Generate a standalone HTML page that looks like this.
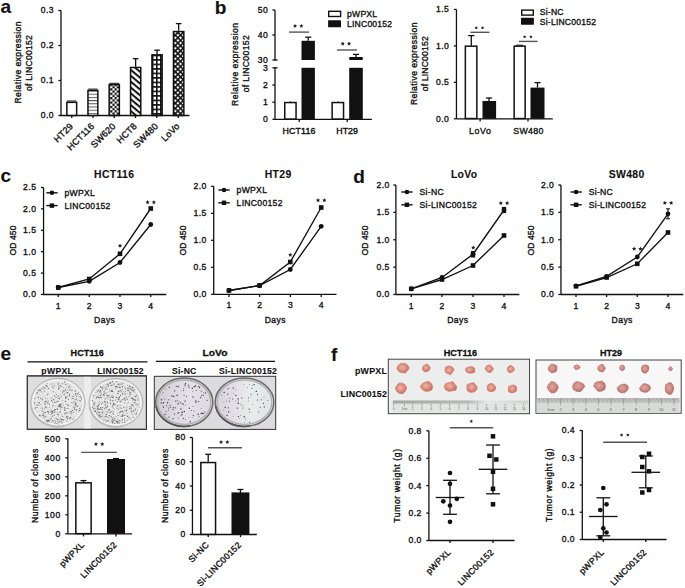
<!DOCTYPE html>
<html><head><meta charset="utf-8"><style>html,body{margin:0;padding:0;background:#fff;width:685px;height:588px;overflow:hidden}svg{display:block;font-family:"Liberation Sans",sans-serif}</style></head>
<body><svg width="685" height="588" viewBox="0 0 685 588" font-family="Liberation Sans, sans-serif"><defs>
<pattern id="ph" width="6" height="3.2" patternUnits="userSpaceOnUse" y="0.9"><rect width="6" height="3.2" fill="#fff"/><rect y="0" width="6" height="1.0" fill="#555"/></pattern>
<pattern id="pc" width="4.4" height="4.4" patternUnits="userSpaceOnUse" x="0.2" y="0.3"><rect width="4.4" height="4.4" fill="#fff"/><rect width="2.2" height="2.2" fill="#111"/><rect x="2.2" y="2.2" width="2.2" height="2.2" fill="#111"/></pattern>
<pattern id="pd" width="6.6" height="4.5" patternUnits="userSpaceOnUse" patternTransform="rotate(40)"><rect width="6.6" height="4.5" fill="#fff"/><rect y="0" width="6.6" height="2.0" fill="#111"/></pattern>
<pattern id="pg" width="4.1" height="4.5" patternUnits="userSpaceOnUse" x="151.9" y="54.6"><rect width="4.1" height="4.5" fill="#111"/><rect x="1.55" y="1.6" width="2.55" height="2.9" fill="#fff"/></pattern>
<pattern id="px" width="3.7" height="3.7" patternUnits="userSpaceOnUse" patternTransform="rotate(45)"><rect width="3.7" height="3.7" fill="#fff"/><rect width="3.7" height="1.6" fill="#111"/><rect width="1.6" height="3.7" fill="#111"/></pattern>
<radialGradient id="tg1" cx="0.45" cy="0.45" r="0.6"><stop offset="0" stop-color="#eeb6a6"/><stop offset="0.55" stop-color="#dc8c7c"/><stop offset="1" stop-color="#c86a5e"/></radialGradient><linearGradient id="rg1" x1="0" x2="1"><stop offset="0" stop-color="#a8a8a8"/><stop offset="0.55" stop-color="#b8b8b8"/><stop offset="0.7" stop-color="#e8e8e8"/><stop offset="1" stop-color="#d0d0d0"/></linearGradient>
<radialGradient id="tg2" cx="0.45" cy="0.45" r="0.6"><stop offset="0" stop-color="#dfa89e"/><stop offset="0.6" stop-color="#cc8680"/><stop offset="1" stop-color="#b4625e"/></radialGradient>
</defs><rect width="685" height="588" fill="#fff"/><text x="0.50" y="13.2" font-size="19" font-weight="bold" text-anchor="start" letter-spacing="0.35" fill="#111" stroke="#111" stroke-width="0.12" >a</text>
<line x1="61.0" y1="10.5" x2="61.0" y2="116.1" stroke="#111" stroke-width="1.3" />
<line x1="58.4" y1="10.5" x2="61.0" y2="10.5" stroke="#111" stroke-width="1.3" />
<text x="54.10" y="13.4" font-size="8.6" text-anchor="end" letter-spacing="0.5" fill="#111" stroke="#111" stroke-width="0.34" >0.3</text>
<line x1="58.4" y1="45.5" x2="61.0" y2="45.5" stroke="#111" stroke-width="1.3" />
<text x="54.10" y="48.4" font-size="8.6" text-anchor="end" letter-spacing="0.5" fill="#111" stroke="#111" stroke-width="0.34" >0.2</text>
<line x1="58.4" y1="80.5" x2="61.0" y2="80.5" stroke="#111" stroke-width="1.3" />
<text x="54.10" y="83.4" font-size="8.6" text-anchor="end" letter-spacing="0.5" fill="#111" stroke="#111" stroke-width="0.34" >0.1</text>
<line x1="58.4" y1="115.5" x2="61.0" y2="115.5" stroke="#111" stroke-width="1.3" />
<text x="54.10" y="118.4" font-size="8.6" text-anchor="end" letter-spacing="0.5" fill="#111" stroke="#111" stroke-width="0.34" >0.0</text>
<line x1="60.4" y1="115.5" x2="189.5" y2="115.5" stroke="#111" stroke-width="1.3" />
<line x1="71.75" y1="115.5" x2="71.75" y2="118.1" stroke="#111" stroke-width="1.3" />
<line x1="93.0" y1="115.5" x2="93.0" y2="118.1" stroke="#111" stroke-width="1.3" />
<line x1="114.25" y1="115.5" x2="114.25" y2="118.1" stroke="#111" stroke-width="1.3" />
<line x1="135.5" y1="115.5" x2="135.5" y2="118.1" stroke="#111" stroke-width="1.3" />
<line x1="156.75" y1="115.5" x2="156.75" y2="118.1" stroke="#111" stroke-width="1.3" />
<line x1="178.25" y1="115.5" x2="178.25" y2="118.1" stroke="#111" stroke-width="1.3" />
<text x="21.20" y="62.5" font-size="8.6" text-anchor="middle" textLength="82" lengthAdjust="spacing" transform="rotate(-90 21.2 62.5)" fill="#111" stroke="#111" stroke-width="0.34" >Relative expression</text>
<text x="32.20" y="63.1" font-size="8.6" text-anchor="middle" textLength="56" lengthAdjust="spacing" transform="rotate(-90 32.2 63.1)" fill="#111" stroke="#111" stroke-width="0.34" >of LINC00152</text>
<line x1="67.1" y1="101.0" x2="76.4" y2="101.0" stroke="#111" stroke-width="1.0" />
<rect x="66.85" y="102.35" width="9.80" height="13.10" fill="#fff" stroke="#111" stroke-width="1.5"/>
<line x1="88.2" y1="89.10000000000001" x2="97.6" y2="89.10000000000001" stroke="#111" stroke-width="1.0" />
<rect x="87.95" y="90.45" width="9.90" height="25.00" fill="url(#ph)" stroke="#111" stroke-width="1.5"/>
<line x1="109.4" y1="83.30000000000001" x2="119.1" y2="83.30000000000001" stroke="#111" stroke-width="1.0" />
<rect x="109.15" y="84.65" width="10.20" height="30.80" fill="url(#pc)" stroke="#111" stroke-width="1.5"/>
<line x1="135.65" y1="66.7" x2="135.65" y2="58.7" stroke="#111" stroke-width="1.3" />
<line x1="132.85" y1="58.7" x2="138.45000000000002" y2="58.7" stroke="#111" stroke-width="1.3" />
<rect x="130.55" y="67.45" width="10.20" height="48.00" fill="url(#pd)" stroke="#111" stroke-width="1.5"/>
<line x1="157.05" y1="54.1" x2="157.05" y2="50.2" stroke="#111" stroke-width="1.3" />
<line x1="154.25" y1="50.2" x2="159.85000000000002" y2="50.2" stroke="#111" stroke-width="1.3" />
<rect x="151.95" y="54.85" width="10.20" height="60.60" fill="url(#pg)" stroke="#111" stroke-width="1.5"/>
<line x1="178.64999999999998" y1="30.8" x2="178.64999999999998" y2="23.6" stroke="#111" stroke-width="1.3" />
<line x1="175.84999999999997" y1="23.6" x2="181.45" y2="23.6" stroke="#111" stroke-width="1.3" />
<rect x="173.45" y="31.55" width="10.40" height="83.90" fill="url(#px)" stroke="#111" stroke-width="1.5"/>
<text x="73.70" y="126.9" font-size="9.1" text-anchor="end" letter-spacing="0.15" transform="rotate(-45 73.55 126.9)" fill="#111" stroke="#111" stroke-width="0.35" >HT29</text>
<text x="94.95" y="126.9" font-size="9.1" text-anchor="end" letter-spacing="0.15" transform="rotate(-45 94.8 126.9)" fill="#111" stroke="#111" stroke-width="0.35" >HCT116</text>
<text x="116.20" y="126.9" font-size="9.1" text-anchor="end" letter-spacing="0.15" transform="rotate(-45 116.05 126.9)" fill="#111" stroke="#111" stroke-width="0.35" >SW620</text>
<text x="137.45" y="126.9" font-size="9.1" text-anchor="end" letter-spacing="0.15" transform="rotate(-45 137.3 126.9)" fill="#111" stroke="#111" stroke-width="0.35" >HCT8</text>
<text x="158.70" y="126.9" font-size="9.1" text-anchor="end" letter-spacing="0.15" transform="rotate(-45 158.55 126.9)" fill="#111" stroke="#111" stroke-width="0.35" >SW480</text>
<text x="180.20" y="126.9" font-size="9.1" text-anchor="end" letter-spacing="0.15" transform="rotate(-45 180.05 126.9)" fill="#111" stroke="#111" stroke-width="0.35" >LoVo</text>
<text x="214.80" y="14.2" font-size="19" font-weight="bold" text-anchor="start" letter-spacing="0.35" fill="#111" stroke="#111" stroke-width="0.12" >b</text>
<line x1="275.0" y1="10" x2="275.0" y2="60.6" stroke="#111" stroke-width="1.3" />
<line x1="275.0" y1="67.4" x2="275.0" y2="119.3" stroke="#111" stroke-width="1.3" />
<line x1="272.4" y1="10" x2="275.0" y2="10" stroke="#111" stroke-width="1.3" />
<text x="268.30" y="12.9" font-size="8.6" text-anchor="end" letter-spacing="0.5" fill="#111" stroke="#111" stroke-width="0.34" >50</text>
<line x1="272.4" y1="35" x2="275.0" y2="35" stroke="#111" stroke-width="1.3" />
<text x="268.30" y="37.9" font-size="8.6" text-anchor="end" letter-spacing="0.5" fill="#111" stroke="#111" stroke-width="0.34" >40</text>
<line x1="272.4" y1="60" x2="275.0" y2="60" stroke="#111" stroke-width="1.3" />
<text x="268.30" y="62.9" font-size="8.6" text-anchor="end" letter-spacing="0.5" fill="#111" stroke="#111" stroke-width="0.34" >30</text>
<line x1="272.4" y1="67.8" x2="275.0" y2="67.8" stroke="#111" stroke-width="1.3" />
<text x="268.30" y="70.7" font-size="8.6" text-anchor="end" letter-spacing="0.5" fill="#111" stroke="#111" stroke-width="0.34" >3</text>
<line x1="272.4" y1="85" x2="275.0" y2="85" stroke="#111" stroke-width="1.3" />
<text x="268.30" y="87.9" font-size="8.6" text-anchor="end" letter-spacing="0.5" fill="#111" stroke="#111" stroke-width="0.34" >2</text>
<line x1="272.4" y1="102.2" x2="275.0" y2="102.2" stroke="#111" stroke-width="1.3" />
<text x="268.30" y="105.10000000000001" font-size="8.6" text-anchor="end" letter-spacing="0.5" fill="#111" stroke="#111" stroke-width="0.34" >1</text>
<line x1="272.4" y1="119.3" x2="275.0" y2="119.3" stroke="#111" stroke-width="1.3" />
<text x="268.30" y="122.2" font-size="8.6" text-anchor="end" letter-spacing="0.5" fill="#111" stroke="#111" stroke-width="0.34" >0</text>
<line x1="275.0" y1="60" x2="277.6" y2="60" stroke="#111" stroke-width="1.3" />
<line x1="275.0" y1="67.8" x2="277.6" y2="67.8" stroke="#111" stroke-width="1.3" />
<line x1="275.0" y1="119.3" x2="371.9" y2="119.3" stroke="#111" stroke-width="1.3" />
<line x1="299.2" y1="119.3" x2="299.2" y2="121.89999999999999" stroke="#111" stroke-width="1.3" />
<line x1="347.2" y1="119.3" x2="347.2" y2="121.89999999999999" stroke="#111" stroke-width="1.3" />
<rect x="284.75" y="102.55" width="11.30" height="16.50" fill="#fff" stroke="#111" stroke-width="1.5"/>
<rect x="332.15" y="102.55" width="11.40" height="16.50" fill="#fff" stroke="#111" stroke-width="1.5"/>
<line x1="290.4" y1="102.2" x2="290.4" y2="101.4" stroke="#111" stroke-width="1.3" />
<line x1="337.9" y1="101.6" x2="337.9" y2="101.0" stroke="#111" stroke-width="1.3" />
<rect x="301.5" y="67.8" width="13.4" height="51.5" fill="#111"/>
<rect x="301.5" y="40.8" width="13.4" height="19.2" fill="#111"/>
<line x1="308.2" y1="40.8" x2="308.2" y2="37.2" stroke="#111" stroke-width="1.3" />
<line x1="305.1" y1="37.2" x2="311.3" y2="37.2" stroke="#111" stroke-width="1.3" />
<rect x="349.2" y="67.8" width="13.6" height="51.5" fill="#111"/>
<rect x="349.2" y="56.9" width="13.6" height="3.1" rx="0.8" fill="#111"/>
<line x1="356" y1="58" x2="356" y2="54.4" stroke="#111" stroke-width="1.3" />
<line x1="352.9" y1="54.4" x2="359.1" y2="54.4" stroke="#111" stroke-width="1.3" />
<line x1="289" y1="32.1" x2="308.9" y2="32.1" stroke="#555" stroke-width="1.4" />
<polygon points="295.05,23.85 295.68,25.13 297.09,25.34 296.07,26.33 296.31,27.74 295.05,27.07 293.79,27.74 294.03,26.33 293.01,25.34 294.42,25.13" fill="#222"/>
<polygon points="301.35,23.85 301.98,25.13 303.39,25.34 302.37,26.33 302.61,27.74 301.35,27.07 300.09,27.74 300.33,26.33 299.31,25.34 300.72,25.13" fill="#222"/>
<line x1="337" y1="50.0" x2="357" y2="50.0" stroke="#555" stroke-width="1.4" />
<polygon points="342.75,41.55 343.38,42.83 344.79,43.04 343.77,44.03 344.01,45.44 342.75,44.78 341.49,45.44 341.73,44.03 340.71,43.04 342.12,42.83" fill="#222"/>
<polygon points="349.05,41.55 349.68,42.83 351.09,43.04 350.07,44.03 350.31,45.44 349.05,44.78 347.79,45.44 348.03,44.03 347.01,43.04 348.42,42.83" fill="#222"/>
<rect x="328.70" y="11.30" width="11.90" height="5.20" fill="#fff" stroke="#111" stroke-width="1.4"/>
<rect x="328.1" y="20.3" width="12.9" height="7.0" rx="0.6" fill="#111"/>
<text x="347.00" y="16.9" font-size="8.6" text-anchor="start" letter-spacing="0.25" fill="#111" stroke="#111" stroke-width="0.34" >pWPXL</text>
<text x="347.00" y="26.8" font-size="8.6" text-anchor="start" letter-spacing="0.2" fill="#111" stroke="#111" stroke-width="0.34" >LINC00152</text>
<text x="299.00" y="134" font-size="8.8" text-anchor="middle" textLength="33" lengthAdjust="spacing" fill="#111" stroke="#111" stroke-width="0.4" >HCT116</text>
<text x="347.10" y="134" font-size="8.8" text-anchor="middle" textLength="21.5" lengthAdjust="spacing" fill="#111" stroke="#111" stroke-width="0.4" >HT29</text>
<text x="238.50" y="64.4" font-size="8.6" text-anchor="middle" textLength="83" lengthAdjust="spacing" transform="rotate(-90 238.5 64.4)" fill="#111" stroke="#111" stroke-width="0.34" >Relative expression</text>
<text x="249.50" y="63.8" font-size="8.6" text-anchor="middle" textLength="57" lengthAdjust="spacing" transform="rotate(-90 249.5 63.8)" fill="#111" stroke="#111" stroke-width="0.34" >of LINC00152</text>
<line x1="456.45" y1="9.5" x2="456.45" y2="118.8" stroke="#111" stroke-width="1.3" />
<line x1="453.84999999999997" y1="9.449999999999989" x2="456.45" y2="9.449999999999989" stroke="#111" stroke-width="1.3" />
<text x="449.40" y="12.349999999999989" font-size="8.6" text-anchor="end" letter-spacing="0.5" fill="#111" stroke="#111" stroke-width="0.34" >1.5</text>
<line x1="453.84999999999997" y1="45.89999999999999" x2="456.45" y2="45.89999999999999" stroke="#111" stroke-width="1.3" />
<text x="449.40" y="48.79999999999999" font-size="8.6" text-anchor="end" letter-spacing="0.5" fill="#111" stroke="#111" stroke-width="0.34" >1.0</text>
<line x1="453.84999999999997" y1="82.35" x2="456.45" y2="82.35" stroke="#111" stroke-width="1.3" />
<text x="449.40" y="85.25" font-size="8.6" text-anchor="end" letter-spacing="0.5" fill="#111" stroke="#111" stroke-width="0.34" >0.5</text>
<line x1="453.84999999999997" y1="118.8" x2="456.45" y2="118.8" stroke="#111" stroke-width="1.3" />
<text x="449.40" y="121.7" font-size="8.6" text-anchor="end" letter-spacing="0.5" fill="#111" stroke="#111" stroke-width="0.34" >0.0</text>
<line x1="456.45" y1="118.8" x2="552.8" y2="118.8" stroke="#111" stroke-width="1.3" />
<line x1="480.1" y1="118.8" x2="480.1" y2="121.39999999999999" stroke="#111" stroke-width="1.3" />
<line x1="528.0" y1="118.8" x2="528.0" y2="121.39999999999999" stroke="#111" stroke-width="1.3" />
<rect x="465.35" y="46.15" width="11.50" height="72.40" fill="#fff" stroke="#111" stroke-width="1.5"/>
<line x1="471.3" y1="45.9" x2="471.3" y2="35.6" stroke="#111" stroke-width="1.3" />
<line x1="468.2" y1="35.6" x2="474.4" y2="35.6" stroke="#111" stroke-width="1.3" />
<rect x="482.5" y="101" width="13.6" height="17.8" fill="#111"/>
<line x1="489" y1="101" x2="489" y2="98" stroke="#111" stroke-width="1.3" />
<line x1="485.9" y1="98" x2="492.1" y2="98" stroke="#111" stroke-width="1.3" />
<rect x="514.15" y="46.15" width="11.00" height="72.40" fill="#fff" stroke="#111" stroke-width="1.5"/>
<line x1="516" y1="45.2" x2="523" y2="45.2" stroke="#111" stroke-width="1.0" />
<rect x="530.5" y="87.6" width="14" height="31.2" fill="#111"/>
<line x1="537.5" y1="87.6" x2="537.5" y2="82.6" stroke="#111" stroke-width="1.3" />
<line x1="534.4" y1="82.6" x2="540.6" y2="82.6" stroke="#111" stroke-width="1.3" />
<line x1="470.4" y1="32.3" x2="489.5" y2="32.3" stroke="#555" stroke-width="1.4" />
<polygon points="476.25,26.10 476.78,27.17 477.96,27.34 477.11,28.18 477.31,29.36 476.25,28.80 475.19,29.36 475.39,28.18 474.54,27.34 475.72,27.17" fill="#222"/>
<polygon points="482.55,26.10 483.08,27.17 484.26,27.34 483.41,28.18 483.61,29.36 482.55,28.80 481.49,29.36 481.69,28.18 480.84,27.34 482.02,27.17" fill="#222"/>
<line x1="519" y1="41.4" x2="537.6" y2="41.4" stroke="#555" stroke-width="1.4" />
<polygon points="524.65,35.10 525.18,36.17 526.36,36.34 525.51,37.18 525.71,38.36 524.65,37.80 523.59,38.36 523.79,37.18 522.94,36.34 524.12,36.17" fill="#222"/>
<polygon points="530.95,35.10 531.48,36.17 532.66,36.34 531.81,37.18 532.01,38.36 530.95,37.80 529.89,38.36 530.09,37.18 529.24,36.34 530.42,36.17" fill="#222"/>
<rect x="521.70" y="10.10" width="11.60" height="5.00" fill="#fff" stroke="#111" stroke-width="1.4"/>
<rect x="521.0" y="17.8" width="12.9" height="6.9" rx="0.6" fill="#111"/>
<text x="539.80" y="15.0" font-size="8.6" text-anchor="start" letter-spacing="0.2" fill="#111" stroke="#111" stroke-width="0.34" >Si-NC</text>
<text x="539.80" y="24.8" font-size="8.6" text-anchor="start" letter-spacing="0.2" fill="#111" stroke="#111" stroke-width="0.34" >Si-LINC00152</text>
<text x="479.90" y="133.8" font-size="8.8" text-anchor="middle" textLength="22" lengthAdjust="spacing" fill="#111" stroke="#111" stroke-width="0.34" >LoVo</text>
<text x="528.30" y="133.8" font-size="8.8" text-anchor="middle" textLength="30" lengthAdjust="spacing" fill="#111" stroke="#111" stroke-width="0.34" >SW480</text>
<text x="416.70" y="63.8" font-size="8.6" text-anchor="middle" textLength="82.5" lengthAdjust="spacing" transform="rotate(-90 416.7 63.8)" fill="#111" stroke="#111" stroke-width="0.34" >Relative expression</text>
<text x="428.00" y="63.8" font-size="8.6" text-anchor="middle" textLength="55" lengthAdjust="spacing" transform="rotate(-90 428.0 63.8)" fill="#111" stroke="#111" stroke-width="0.34" >of LINC00152</text>
<text x="0.60" y="181.7" font-size="19" font-weight="bold" text-anchor="start" letter-spacing="0.35" fill="#111" stroke="#111" stroke-width="0.12" >c</text>
<line x1="43.55" y1="187.5" x2="43.55" y2="294.5" stroke="#111" stroke-width="1.3" />
<line x1="40.949999999999996" y1="294.5" x2="43.55" y2="294.5" stroke="#111" stroke-width="1.3" />
<text x="36.50" y="297.4" font-size="8.6" text-anchor="end" letter-spacing="0.5" fill="#111" stroke="#111" stroke-width="0.34" >0.0</text>
<line x1="40.949999999999996" y1="273.1" x2="43.55" y2="273.1" stroke="#111" stroke-width="1.3" />
<text x="36.50" y="276.0" font-size="8.6" text-anchor="end" letter-spacing="0.5" fill="#111" stroke="#111" stroke-width="0.34" >0.5</text>
<line x1="40.949999999999996" y1="251.7" x2="43.55" y2="251.7" stroke="#111" stroke-width="1.3" />
<text x="36.50" y="254.6" font-size="8.6" text-anchor="end" letter-spacing="0.5" fill="#111" stroke="#111" stroke-width="0.34" >1.0</text>
<line x1="40.949999999999996" y1="230.3" x2="43.55" y2="230.3" stroke="#111" stroke-width="1.3" />
<text x="36.50" y="233.20000000000002" font-size="8.6" text-anchor="end" letter-spacing="0.5" fill="#111" stroke="#111" stroke-width="0.34" >1.5</text>
<line x1="40.949999999999996" y1="208.9" x2="43.55" y2="208.9" stroke="#111" stroke-width="1.3" />
<text x="36.50" y="211.8" font-size="8.6" text-anchor="end" letter-spacing="0.5" fill="#111" stroke="#111" stroke-width="0.34" >2.0</text>
<line x1="40.949999999999996" y1="187.5" x2="43.55" y2="187.5" stroke="#111" stroke-width="1.3" />
<text x="36.50" y="190.4" font-size="8.6" text-anchor="end" letter-spacing="0.5" fill="#111" stroke="#111" stroke-width="0.34" >2.5</text>
<line x1="43.55" y1="294.5" x2="166.25" y2="294.5" stroke="#111" stroke-width="1.3" />
<line x1="58.25" y1="294.5" x2="58.25" y2="297.1" stroke="#111" stroke-width="1.3" />
<line x1="89.25" y1="294.5" x2="89.25" y2="297.1" stroke="#111" stroke-width="1.3" />
<line x1="120.0" y1="294.5" x2="120.0" y2="297.1" stroke="#111" stroke-width="1.3" />
<line x1="150.75" y1="294.5" x2="150.75" y2="297.1" stroke="#111" stroke-width="1.3" />
<text x="58.50" y="308.5" font-size="8.6" text-anchor="middle" letter-spacing="0.5" fill="#111" stroke="#111" stroke-width="0.34" >1</text>
<text x="89.50" y="308.5" font-size="8.6" text-anchor="middle" letter-spacing="0.5" fill="#111" stroke="#111" stroke-width="0.34" >2</text>
<text x="120.25" y="308.5" font-size="8.6" text-anchor="middle" letter-spacing="0.5" fill="#111" stroke="#111" stroke-width="0.34" >3</text>
<text x="151.00" y="308.5" font-size="8.6" text-anchor="middle" letter-spacing="0.5" fill="#111" stroke="#111" stroke-width="0.34" >4</text>
<text x="104.50" y="322.9" font-size="8.6" text-anchor="middle" textLength="20.8" lengthAdjust="spacing" fill="#111" stroke="#111" stroke-width="0.34" >Days</text>
<text x="114.17" y="178.3" font-size="10.4" font-weight="bold" text-anchor="middle" letter-spacing="0.35" fill="#111" stroke="#111" stroke-width="0.12" >HCT116</text>
<text x="15.60" y="240.5" font-size="8.6" text-anchor="middle" textLength="30" lengthAdjust="spacing" transform="rotate(-90 15.6 240.5)" fill="#111" stroke="#111" stroke-width="0.34" >OD 450</text>
<line x1="46.3" y1="192.8" x2="57.599999999999994" y2="192.8" stroke="#111" stroke-width="1.4" />
<circle cx="51.9" cy="192.8" r="2.3100000000000005" fill="#111"/>
<text x="64.50" y="195.8" font-size="8.6" text-anchor="start" letter-spacing="0.3" fill="#111" stroke="#111" stroke-width="0.34" >pWPXL</text>
<line x1="46.3" y1="205.60000000000002" x2="57.599999999999994" y2="205.60000000000002" stroke="#111" stroke-width="1.4" />
<rect x="49.699999999999996" y="203.40000000000003" width="4.4" height="4.4" fill="#111"/>
<text x="64.50" y="208.60000000000002" font-size="8.6" text-anchor="start" letter-spacing="0.3" fill="#111" stroke="#111" stroke-width="0.34" >LINC00152</text>
<polyline points="58.25,287.5 89.25,281.3 120.0,262.5 150.75,224.5" fill="none" stroke="#111" stroke-width="1.35"/>
<circle cx="58.25" cy="287.5" r="2.415" fill="#111"/>
<circle cx="89.25" cy="281.3" r="2.415" fill="#111"/>
<circle cx="120.0" cy="262.5" r="2.415" fill="#111"/>
<circle cx="150.75" cy="224.5" r="2.415" fill="#111"/>
<polyline points="58.25,287.5 89.25,279.0 120.0,253.8 150.75,208.5" fill="none" stroke="#111" stroke-width="1.35"/>
<rect x="55.95" y="285.2" width="4.6" height="4.6" fill="#111"/>
<rect x="86.95" y="276.7" width="4.6" height="4.6" fill="#111"/>
<rect x="117.7" y="251.5" width="4.6" height="4.6" fill="#111"/>
<rect x="148.45" y="206.2" width="4.6" height="4.6" fill="#111"/>
<polygon points="120.00,243.60 120.65,244.91 122.09,245.12 121.05,246.14 121.29,247.58 120.00,246.90 118.71,247.58 118.95,246.14 117.91,245.12 119.35,244.91" fill="#222"/>
<polygon points="147.60,200.10 148.25,201.41 149.69,201.62 148.65,202.64 148.89,204.08 147.60,203.40 146.31,204.08 146.55,202.64 145.51,201.62 146.95,201.41" fill="#222"/>
<polygon points="153.90,200.10 154.55,201.41 155.99,201.62 154.95,202.64 155.19,204.08 153.90,203.40 152.61,204.08 152.85,202.64 151.81,201.62 153.25,201.41" fill="#222"/>
<line x1="213.7" y1="186.3" x2="213.7" y2="294.3" stroke="#111" stroke-width="1.3" />
<line x1="211.1" y1="294.3" x2="213.7" y2="294.3" stroke="#111" stroke-width="1.3" />
<text x="206.90" y="297.2" font-size="8.6" text-anchor="end" letter-spacing="0.5" fill="#111" stroke="#111" stroke-width="0.34" >0.0</text>
<line x1="211.1" y1="267.3" x2="213.7" y2="267.3" stroke="#111" stroke-width="1.3" />
<text x="206.90" y="270.2" font-size="8.6" text-anchor="end" letter-spacing="0.5" fill="#111" stroke="#111" stroke-width="0.34" >0.5</text>
<line x1="211.1" y1="240.3" x2="213.7" y2="240.3" stroke="#111" stroke-width="1.3" />
<text x="206.90" y="243.20000000000002" font-size="8.6" text-anchor="end" letter-spacing="0.5" fill="#111" stroke="#111" stroke-width="0.34" >1.0</text>
<line x1="211.1" y1="213.3" x2="213.7" y2="213.3" stroke="#111" stroke-width="1.3" />
<text x="206.90" y="216.20000000000002" font-size="8.6" text-anchor="end" letter-spacing="0.5" fill="#111" stroke="#111" stroke-width="0.34" >1.5</text>
<line x1="211.1" y1="186.3" x2="213.7" y2="186.3" stroke="#111" stroke-width="1.3" />
<text x="206.90" y="189.20000000000002" font-size="8.6" text-anchor="end" letter-spacing="0.5" fill="#111" stroke="#111" stroke-width="0.34" >2.0</text>
<line x1="213.7" y1="294.3" x2="336.5" y2="294.3" stroke="#111" stroke-width="1.3" />
<line x1="229.0" y1="294.3" x2="229.0" y2="296.90000000000003" stroke="#111" stroke-width="1.3" />
<line x1="259.6" y1="294.3" x2="259.6" y2="296.90000000000003" stroke="#111" stroke-width="1.3" />
<line x1="290.3" y1="294.3" x2="290.3" y2="296.90000000000003" stroke="#111" stroke-width="1.3" />
<line x1="321.2" y1="294.3" x2="321.2" y2="296.90000000000003" stroke="#111" stroke-width="1.3" />
<text x="229.25" y="308.3" font-size="8.6" text-anchor="middle" letter-spacing="0.5" fill="#111" stroke="#111" stroke-width="0.34" >1</text>
<text x="259.85" y="308.3" font-size="8.6" text-anchor="middle" letter-spacing="0.5" fill="#111" stroke="#111" stroke-width="0.34" >2</text>
<text x="290.55" y="308.3" font-size="8.6" text-anchor="middle" letter-spacing="0.5" fill="#111" stroke="#111" stroke-width="0.34" >3</text>
<text x="321.45" y="308.3" font-size="8.6" text-anchor="middle" letter-spacing="0.5" fill="#111" stroke="#111" stroke-width="0.34" >4</text>
<text x="275.10" y="322.7" font-size="8.6" text-anchor="middle" textLength="20.8" lengthAdjust="spacing" fill="#111" stroke="#111" stroke-width="0.34" >Days</text>
<text x="278.18" y="178.3" font-size="10.4" font-weight="bold" text-anchor="middle" letter-spacing="0.35" fill="#111" stroke="#111" stroke-width="0.12" >HT29</text>
<text x="185.60" y="240.5" font-size="8.6" text-anchor="middle" textLength="30" lengthAdjust="spacing" transform="rotate(-90 185.6 240.5)" fill="#111" stroke="#111" stroke-width="0.34" >OD 450</text>
<line x1="218.4" y1="190.0" x2="229.70000000000002" y2="190.0" stroke="#111" stroke-width="1.4" />
<circle cx="224.0" cy="190.0" r="2.3100000000000005" fill="#111"/>
<text x="236.60" y="193.0" font-size="8.6" text-anchor="start" letter-spacing="0.3" fill="#111" stroke="#111" stroke-width="0.34" >pWPXL</text>
<line x1="218.4" y1="202.8" x2="229.70000000000002" y2="202.8" stroke="#111" stroke-width="1.4" />
<rect x="221.8" y="200.60000000000002" width="4.4" height="4.4" fill="#111"/>
<text x="236.60" y="205.8" font-size="8.6" text-anchor="start" letter-spacing="0.3" fill="#111" stroke="#111" stroke-width="0.34" >LINC00152</text>
<polyline points="229.0,290.5 259.6,285.5 290.3,269.5 321.2,226.3" fill="none" stroke="#111" stroke-width="1.35"/>
<circle cx="229.0" cy="290.5" r="2.415" fill="#111"/>
<circle cx="259.6" cy="285.5" r="2.415" fill="#111"/>
<circle cx="290.3" cy="269.5" r="2.415" fill="#111"/>
<circle cx="321.2" cy="226.3" r="2.415" fill="#111"/>
<polyline points="229.0,290.5 259.6,285.5 290.3,262.0 321.2,207.5" fill="none" stroke="#111" stroke-width="1.35"/>
<rect x="226.7" y="288.2" width="4.6" height="4.6" fill="#111"/>
<rect x="257.3" y="283.2" width="4.6" height="4.6" fill="#111"/>
<rect x="288.0" y="259.7" width="4.6" height="4.6" fill="#111"/>
<rect x="318.9" y="205.2" width="4.6" height="4.6" fill="#111"/>
<polygon points="290.30,252.80 290.95,254.11 292.39,254.32 291.35,255.34 291.59,256.78 290.30,256.10 289.01,256.78 289.25,255.34 288.21,254.32 289.65,254.11" fill="#222"/>
<polygon points="318.05,198.10 318.70,199.41 320.14,199.62 319.10,200.64 319.34,202.08 318.05,201.40 316.76,202.08 317.00,200.64 315.96,199.62 317.40,199.41" fill="#222"/>
<polygon points="324.35,198.10 325.00,199.41 326.44,199.62 325.40,200.64 325.64,202.08 324.35,201.40 323.06,202.08 323.30,200.64 322.26,199.62 323.70,199.41" fill="#222"/>
<text x="353.30" y="183.2" font-size="19" font-weight="bold" text-anchor="start" letter-spacing="0.35" fill="#111" stroke="#111" stroke-width="0.12" >d</text>
<line x1="395.9" y1="185.0" x2="395.9" y2="294.5" stroke="#111" stroke-width="1.3" />
<line x1="393.29999999999995" y1="294.5" x2="395.9" y2="294.5" stroke="#111" stroke-width="1.3" />
<text x="389.90" y="297.4" font-size="8.6" text-anchor="end" letter-spacing="0.5" fill="#111" stroke="#111" stroke-width="0.34" >0.0</text>
<line x1="393.29999999999995" y1="267.125" x2="395.9" y2="267.125" stroke="#111" stroke-width="1.3" />
<text x="389.90" y="270.025" font-size="8.6" text-anchor="end" letter-spacing="0.5" fill="#111" stroke="#111" stroke-width="0.34" >0.5</text>
<line x1="393.29999999999995" y1="239.75" x2="395.9" y2="239.75" stroke="#111" stroke-width="1.3" />
<text x="389.90" y="242.65" font-size="8.6" text-anchor="end" letter-spacing="0.5" fill="#111" stroke="#111" stroke-width="0.34" >1.0</text>
<line x1="393.29999999999995" y1="212.375" x2="395.9" y2="212.375" stroke="#111" stroke-width="1.3" />
<text x="389.90" y="215.275" font-size="8.6" text-anchor="end" letter-spacing="0.5" fill="#111" stroke="#111" stroke-width="0.34" >1.5</text>
<line x1="393.29999999999995" y1="185.0" x2="395.9" y2="185.0" stroke="#111" stroke-width="1.3" />
<text x="389.90" y="187.9" font-size="8.6" text-anchor="end" letter-spacing="0.5" fill="#111" stroke="#111" stroke-width="0.34" >2.0</text>
<line x1="395.9" y1="294.5" x2="519.375" y2="294.5" stroke="#111" stroke-width="1.3" />
<line x1="411.25" y1="294.5" x2="411.25" y2="297.1" stroke="#111" stroke-width="1.3" />
<line x1="442.0" y1="294.5" x2="442.0" y2="297.1" stroke="#111" stroke-width="1.3" />
<line x1="473.0" y1="294.5" x2="473.0" y2="297.1" stroke="#111" stroke-width="1.3" />
<line x1="504.0" y1="294.5" x2="504.0" y2="297.1" stroke="#111" stroke-width="1.3" />
<text x="411.50" y="308.5" font-size="8.6" text-anchor="middle" letter-spacing="0.5" fill="#111" stroke="#111" stroke-width="0.34" >1</text>
<text x="442.25" y="308.5" font-size="8.6" text-anchor="middle" letter-spacing="0.5" fill="#111" stroke="#111" stroke-width="0.34" >2</text>
<text x="473.25" y="308.5" font-size="8.6" text-anchor="middle" letter-spacing="0.5" fill="#111" stroke="#111" stroke-width="0.34" >3</text>
<text x="504.25" y="308.5" font-size="8.6" text-anchor="middle" letter-spacing="0.5" fill="#111" stroke="#111" stroke-width="0.34" >4</text>
<text x="457.62" y="322.9" font-size="8.6" text-anchor="middle" textLength="20.8" lengthAdjust="spacing" fill="#111" stroke="#111" stroke-width="0.34" >Days</text>
<text x="464.18" y="178.3" font-size="10.4" font-weight="bold" text-anchor="middle" letter-spacing="0.35" fill="#111" stroke="#111" stroke-width="0.12" >LoVo</text>
<text x="367.60" y="240.5" font-size="8.6" text-anchor="middle" textLength="30" lengthAdjust="spacing" transform="rotate(-90 367.6 240.5)" fill="#111" stroke="#111" stroke-width="0.34" >OD 450</text>
<line x1="401.3" y1="192.0" x2="412.6" y2="192.0" stroke="#111" stroke-width="1.4" />
<circle cx="406.90000000000003" cy="192.0" r="2.3100000000000005" fill="#111"/>
<text x="419.50" y="195.0" font-size="8.6" text-anchor="start" letter-spacing="0.3" fill="#111" stroke="#111" stroke-width="0.34" >Si-NC</text>
<line x1="401.3" y1="204.8" x2="412.6" y2="204.8" stroke="#111" stroke-width="1.4" />
<rect x="404.70000000000005" y="202.60000000000002" width="4.4" height="4.4" fill="#111"/>
<text x="419.50" y="207.8" font-size="8.6" text-anchor="start" letter-spacing="0.3" fill="#111" stroke="#111" stroke-width="0.34" >Si-LINC00152</text>
<polyline points="411.25,288.8 442.0,277.5 473.0,254.2 504.0,210.0" fill="none" stroke="#111" stroke-width="1.35"/>
<circle cx="411.25" cy="288.8" r="2.415" fill="#111"/>
<circle cx="442.0" cy="277.5" r="2.415" fill="#111"/>
<circle cx="473.0" cy="254.2" r="2.415" fill="#111"/>
<circle cx="504.0" cy="210.0" r="2.415" fill="#111"/>
<polyline points="411.25,288.8 442.0,279.5 473.0,265.5 504.0,235.5" fill="none" stroke="#111" stroke-width="1.35"/>
<rect x="408.95" y="286.5" width="4.6" height="4.6" fill="#111"/>
<rect x="439.7" y="277.2" width="4.6" height="4.6" fill="#111"/>
<rect x="470.7" y="263.2" width="4.6" height="4.6" fill="#111"/>
<rect x="501.7" y="233.2" width="4.6" height="4.6" fill="#111"/>
<polygon points="473.30,245.50 473.95,246.81 475.39,247.02 474.35,248.04 474.59,249.48 473.30,248.80 472.01,249.48 472.25,248.04 471.21,247.02 472.65,246.81" fill="#222"/>
<polygon points="500.85,200.90 501.50,202.21 502.94,202.42 501.90,203.44 502.14,204.88 500.85,204.20 499.56,204.88 499.80,203.44 498.76,202.42 500.20,202.21" fill="#222"/>
<polygon points="507.15,200.90 507.80,202.21 509.24,202.42 508.20,203.44 508.44,204.88 507.15,204.20 505.86,204.88 506.10,203.44 505.06,202.42 506.50,202.21" fill="#222"/>
<line x1="560.95" y1="185.0" x2="560.95" y2="294.5" stroke="#111" stroke-width="1.3" />
<line x1="558.35" y1="294.5" x2="560.95" y2="294.5" stroke="#111" stroke-width="1.3" />
<text x="554.40" y="297.4" font-size="8.6" text-anchor="end" letter-spacing="0.5" fill="#111" stroke="#111" stroke-width="0.34" >0.0</text>
<line x1="558.35" y1="267.125" x2="560.95" y2="267.125" stroke="#111" stroke-width="1.3" />
<text x="554.40" y="270.025" font-size="8.6" text-anchor="end" letter-spacing="0.5" fill="#111" stroke="#111" stroke-width="0.34" >0.5</text>
<line x1="558.35" y1="239.75" x2="560.95" y2="239.75" stroke="#111" stroke-width="1.3" />
<text x="554.40" y="242.65" font-size="8.6" text-anchor="end" letter-spacing="0.5" fill="#111" stroke="#111" stroke-width="0.34" >1.0</text>
<line x1="558.35" y1="212.375" x2="560.95" y2="212.375" stroke="#111" stroke-width="1.3" />
<text x="554.40" y="215.275" font-size="8.6" text-anchor="end" letter-spacing="0.5" fill="#111" stroke="#111" stroke-width="0.34" >1.5</text>
<line x1="558.35" y1="185.0" x2="560.95" y2="185.0" stroke="#111" stroke-width="1.3" />
<text x="554.40" y="187.9" font-size="8.6" text-anchor="end" letter-spacing="0.5" fill="#111" stroke="#111" stroke-width="0.34" >2.0</text>
<line x1="560.95" y1="294.5" x2="683.3" y2="294.5" stroke="#111" stroke-width="1.3" />
<line x1="576.0" y1="294.5" x2="576.0" y2="297.1" stroke="#111" stroke-width="1.3" />
<line x1="606.6" y1="294.5" x2="606.6" y2="297.1" stroke="#111" stroke-width="1.3" />
<line x1="637.3" y1="294.5" x2="637.3" y2="297.1" stroke="#111" stroke-width="1.3" />
<line x1="668.0" y1="294.5" x2="668.0" y2="297.1" stroke="#111" stroke-width="1.3" />
<text x="576.25" y="308.5" font-size="8.6" text-anchor="middle" letter-spacing="0.5" fill="#111" stroke="#111" stroke-width="0.34" >1</text>
<text x="606.85" y="308.5" font-size="8.6" text-anchor="middle" letter-spacing="0.5" fill="#111" stroke="#111" stroke-width="0.34" >2</text>
<text x="637.55" y="308.5" font-size="8.6" text-anchor="middle" letter-spacing="0.5" fill="#111" stroke="#111" stroke-width="0.34" >3</text>
<text x="668.25" y="308.5" font-size="8.6" text-anchor="middle" letter-spacing="0.5" fill="#111" stroke="#111" stroke-width="0.34" >4</text>
<text x="622.00" y="322.9" font-size="8.6" text-anchor="middle" textLength="20.8" lengthAdjust="spacing" fill="#111" stroke="#111" stroke-width="0.34" >Days</text>
<text x="626.67" y="178.3" font-size="10.4" font-weight="bold" text-anchor="middle" letter-spacing="0.35" fill="#111" stroke="#111" stroke-width="0.12" >SW480</text>
<text x="533.80" y="240.5" font-size="8.6" text-anchor="middle" textLength="30" lengthAdjust="spacing" transform="rotate(-90 533.8 240.5)" fill="#111" stroke="#111" stroke-width="0.34" >OD 450</text>
<line x1="570.5" y1="192.0" x2="581.8" y2="192.0" stroke="#111" stroke-width="1.4" />
<circle cx="576.1" cy="192.0" r="2.3100000000000005" fill="#111"/>
<text x="588.70" y="195.0" font-size="8.6" text-anchor="start" letter-spacing="0.3" fill="#111" stroke="#111" stroke-width="0.34" >Si-NC</text>
<line x1="570.5" y1="204.8" x2="581.8" y2="204.8" stroke="#111" stroke-width="1.4" />
<rect x="573.9" y="202.60000000000002" width="4.4" height="4.4" fill="#111"/>
<text x="588.70" y="207.8" font-size="8.6" text-anchor="start" letter-spacing="0.3" fill="#111" stroke="#111" stroke-width="0.34" >Si-LINC00152</text>
<polyline points="576.0,285.8 606.6,276.3 637.3,257.0 668.0,213.8" fill="none" stroke="#111" stroke-width="1.35"/>
<circle cx="576.0" cy="285.8" r="2.415" fill="#111"/>
<circle cx="606.6" cy="276.3" r="2.415" fill="#111"/>
<circle cx="637.3" cy="257.0" r="2.415" fill="#111"/>
<circle cx="668.0" cy="213.8" r="2.415" fill="#111"/>
<polyline points="576.0,286.3 606.6,277.5 637.3,263.8 668.0,232.5" fill="none" stroke="#111" stroke-width="1.35"/>
<rect x="573.7" y="284.0" width="4.6" height="4.6" fill="#111"/>
<rect x="604.3000000000001" y="275.2" width="4.6" height="4.6" fill="#111"/>
<rect x="635.0" y="261.5" width="4.6" height="4.6" fill="#111"/>
<rect x="665.7" y="230.2" width="4.6" height="4.6" fill="#111"/>
<polygon points="634.15,246.60 634.80,247.91 636.24,248.12 635.20,249.14 635.44,250.58 634.15,249.90 632.86,250.58 633.10,249.14 632.06,248.12 633.50,247.91" fill="#222"/>
<polygon points="640.45,246.60 641.10,247.91 642.54,248.12 641.50,249.14 641.74,250.58 640.45,249.90 639.16,250.58 639.40,249.14 638.36,248.12 639.80,247.91" fill="#222"/>
<polygon points="664.85,200.80 665.50,202.11 666.94,202.32 665.90,203.34 666.14,204.78 664.85,204.10 663.56,204.78 663.80,203.34 662.76,202.32 664.20,202.11" fill="#222"/>
<polygon points="671.15,200.80 671.80,202.11 673.24,202.32 672.20,203.34 672.44,204.78 671.15,204.10 669.86,204.78 670.10,203.34 669.06,202.32 670.50,202.11" fill="#222"/>
<rect x="470.9" y="251" width="4.3" height="6.5" fill="#111"/>
<rect x="501.9" y="206.9" width="4.2" height="6.2" fill="#111"/>
<line x1="668" y1="208.8" x2="668" y2="218.8" stroke="#111" stroke-width="1.2" />
<line x1="666" y1="208.8" x2="670" y2="208.8" stroke="#111" stroke-width="1.0" />
<line x1="666" y1="218.8" x2="670" y2="218.8" stroke="#111" stroke-width="1.0" />
<text x="0.50" y="360.3" font-size="19" font-weight="bold" text-anchor="start" letter-spacing="0.35" fill="#111" stroke="#111" stroke-width="0.12" >e</text>
<text x="87.20" y="356.3" font-size="9.7" font-weight="bold" text-anchor="middle" textLength="33.2" lengthAdjust="spacingAndGlyphs" fill="#111" stroke="#111" stroke-width="0.3" >HCT116</text>
<line x1="27.5" y1="361.8" x2="147.5" y2="361.8" stroke="#111" stroke-width="1.3" />
<text x="57.10" y="373.8" font-size="8.6" font-weight="bold" text-anchor="middle" textLength="31.5" lengthAdjust="spacing" fill="#111" stroke="#111" stroke-width="0.12" >pWPXL</text>
<text x="120.40" y="373.8" font-size="8.6" font-weight="bold" text-anchor="middle" textLength="46.5" lengthAdjust="spacing" fill="#111" stroke="#111" stroke-width="0.12" >LINC00152</text>
<text x="215.00" y="356.3" font-size="9.7" font-weight="bold" text-anchor="middle" textLength="24.8" lengthAdjust="spacingAndGlyphs" fill="#111" stroke="#111" stroke-width="0.3" >LoVo</text>
<line x1="155.8" y1="361.3" x2="275" y2="361.3" stroke="#111" stroke-width="1.3" />
<text x="184.20" y="374.3" font-size="8.6" font-weight="bold" text-anchor="middle" textLength="24.2" lengthAdjust="spacing" fill="#111" stroke="#111" stroke-width="0.12" >Si-NC</text>
<text x="247.90" y="374.3" font-size="8.6" font-weight="bold" text-anchor="middle" textLength="58" lengthAdjust="spacing" fill="#111" stroke="#111" stroke-width="0.12" >Si-LINC00152</text>
<defs><radialGradient id="dg1" cx="0.5" cy="0.5" r="0.5"><stop offset="0" stop-color="#ebebeb"/><stop offset="0.85" stop-color="#e4e4e4"/><stop offset="1" stop-color="#d6d6d6"/></radialGradient><linearGradient id="dl1" x1="0" x2="1"><stop offset="0" stop-color="#cfccd6"/><stop offset="0.3" stop-color="#dcd8e2"/><stop offset="0.6" stop-color="#e4e0e8"/><stop offset="1" stop-color="#dad8e0"/></linearGradient><linearGradient id="dl2" x1="0" x2="1"><stop offset="0" stop-color="#d6d2dc"/><stop offset="0.4" stop-color="#e6e2ea"/><stop offset="0.6" stop-color="#e8ecea"/><stop offset="1" stop-color="#dfe4ec"/></linearGradient></defs>
<rect x="27.3" y="375.9" width="119.1" height="53.4" fill="#dedede" stroke="#333" stroke-width="1"/>
<rect x="84" y="376.5" width="7" height="52.3" fill="#ececec"/>
<rect x="27.3" y="375.9" width="119.10000000000001" height="53.400000000000034" fill="none" stroke="#333" stroke-width="1"/>
<ellipse cx="57.9" cy="402.4" rx="27.2" ry="24.2" fill="url(#dg1)" stroke="#a8a8a8" stroke-width="0.8"/>
<ellipse cx="57.9" cy="402.4" rx="25.2" ry="22.2" fill="none" stroke="#f4f4f4" stroke-width="1.4"/>
<path d="M31.2,406.4 A26.7,23.7 0 0 0 63.9,425.99999999999994" fill="none" stroke="#b8b8b8" stroke-width="1.6"/>
<circle cx="72.2" cy="390.5" r="0.47" fill="#666"/>
<circle cx="55.2" cy="409.7" r="0.58" fill="#666"/>
<circle cx="76.2" cy="399.1" r="0.57" fill="#666"/>
<circle cx="70.0" cy="389.3" r="0.63" fill="#666"/>
<circle cx="42.5" cy="398.6" r="0.31" fill="#666"/>
<circle cx="42.8" cy="399.4" r="0.47" fill="#666"/>
<circle cx="43.4" cy="389.4" r="0.38" fill="#666"/>
<circle cx="55.7" cy="392.2" r="0.31" fill="#666"/>
<circle cx="76.3" cy="405.1" r="0.52" fill="#666"/>
<circle cx="48.8" cy="413.1" r="0.55" fill="#666"/>
<circle cx="81.6" cy="398.6" r="0.59" fill="#666"/>
<circle cx="67.2" cy="392.9" r="0.51" fill="#666"/>
<circle cx="58.2" cy="406.7" r="0.31" fill="#666"/>
<circle cx="43.9" cy="416.8" r="0.45" fill="#666"/>
<circle cx="40.1" cy="404.8" r="0.55" fill="#666"/>
<circle cx="67.4" cy="396.3" r="0.45" fill="#666"/>
<circle cx="58.4" cy="415.9" r="0.48" fill="#666"/>
<circle cx="52.1" cy="401.9" r="0.31" fill="#666"/>
<circle cx="52.1" cy="386.4" r="0.48" fill="#666"/>
<circle cx="60.1" cy="419.8" r="0.38" fill="#666"/>
<circle cx="62.1" cy="400.4" r="0.39" fill="#666"/>
<circle cx="71.0" cy="417.4" r="0.48" fill="#666"/>
<circle cx="61.2" cy="398.8" r="0.32" fill="#666"/>
<circle cx="78.0" cy="405.8" r="0.37" fill="#666"/>
<circle cx="58.2" cy="401.7" r="0.42" fill="#666"/>
<circle cx="49.5" cy="404.3" r="0.52" fill="#666"/>
<circle cx="64.0" cy="400.4" r="0.31" fill="#666"/>
<circle cx="43.2" cy="386.8" r="0.50" fill="#666"/>
<circle cx="74.1" cy="417.7" r="0.39" fill="#666"/>
<circle cx="76.5" cy="410.8" r="0.33" fill="#666"/>
<circle cx="71.8" cy="390.3" r="0.34" fill="#666"/>
<circle cx="64.7" cy="394.9" r="0.32" fill="#666"/>
<circle cx="39.4" cy="403.7" r="0.36" fill="#666"/>
<circle cx="45.5" cy="412.6" r="0.46" fill="#666"/>
<circle cx="48.2" cy="401.1" r="0.31" fill="#666"/>
<circle cx="51.7" cy="398.6" r="0.37" fill="#666"/>
<circle cx="58.5" cy="388.3" r="0.51" fill="#666"/>
<circle cx="69.8" cy="386.0" r="0.55" fill="#666"/>
<circle cx="67.6" cy="404.6" r="0.38" fill="#666"/>
<circle cx="58.8" cy="389.0" r="0.53" fill="#666"/>
<circle cx="52.2" cy="406.1" r="0.41" fill="#666"/>
<circle cx="78.3" cy="393.0" r="0.60" fill="#666"/>
<circle cx="71.2" cy="398.3" r="0.39" fill="#666"/>
<circle cx="58.4" cy="396.5" r="0.42" fill="#666"/>
<circle cx="41.9" cy="410.8" r="0.45" fill="#666"/>
<circle cx="66.9" cy="392.5" r="0.47" fill="#666"/>
<circle cx="48.4" cy="420.4" r="0.61" fill="#666"/>
<circle cx="73.3" cy="394.6" r="0.37" fill="#666"/>
<circle cx="67.4" cy="418.7" r="0.63" fill="#666"/>
<circle cx="49.4" cy="420.9" r="0.54" fill="#666"/>
<circle cx="43.5" cy="413.3" r="0.33" fill="#666"/>
<circle cx="42.3" cy="414.9" r="0.51" fill="#666"/>
<circle cx="76.5" cy="396.0" r="0.42" fill="#666"/>
<circle cx="46.5" cy="420.2" r="0.51" fill="#666"/>
<circle cx="38.1" cy="404.9" r="0.34" fill="#666"/>
<circle cx="75.8" cy="394.7" r="0.52" fill="#666"/>
<circle cx="73.2" cy="396.5" r="0.50" fill="#666"/>
<circle cx="61.4" cy="423.0" r="0.46" fill="#666"/>
<circle cx="45.8" cy="416.3" r="0.59" fill="#666"/>
<circle cx="53.6" cy="383.8" r="0.36" fill="#666"/>
<circle cx="43.8" cy="414.2" r="0.34" fill="#666"/>
<circle cx="80.2" cy="396.5" r="0.64" fill="#666"/>
<circle cx="44.5" cy="401.3" r="0.34" fill="#666"/>
<circle cx="46.8" cy="407.1" r="0.46" fill="#666"/>
<circle cx="42.4" cy="408.1" r="0.64" fill="#666"/>
<circle cx="60.2" cy="411.5" r="0.53" fill="#666"/>
<circle cx="44.8" cy="404.4" r="0.41" fill="#666"/>
<circle cx="55.1" cy="409.8" r="0.53" fill="#666"/>
<circle cx="47.4" cy="394.0" r="0.41" fill="#666"/>
<circle cx="47.2" cy="394.4" r="0.49" fill="#666"/>
<circle cx="62.2" cy="407.0" r="0.39" fill="#666"/>
<circle cx="34.6" cy="404.9" r="0.32" fill="#666"/>
<circle cx="34.8" cy="409.0" r="0.40" fill="#666"/>
<circle cx="73.8" cy="402.1" r="0.60" fill="#666"/>
<circle cx="39.1" cy="402.5" r="0.58" fill="#666"/>
<circle cx="40.1" cy="415.8" r="0.64" fill="#666"/>
<circle cx="75.4" cy="393.7" r="0.34" fill="#666"/>
<circle cx="58.7" cy="422.7" r="0.40" fill="#666"/>
<circle cx="47.9" cy="421.9" r="0.58" fill="#666"/>
<circle cx="71.3" cy="411.6" r="0.36" fill="#666"/>
<circle cx="54.2" cy="385.8" r="0.55" fill="#666"/>
<circle cx="67.0" cy="390.4" r="0.32" fill="#666"/>
<circle cx="60.6" cy="404.4" r="0.60" fill="#666"/>
<circle cx="55.4" cy="397.4" r="0.42" fill="#666"/>
<circle cx="65.9" cy="398.4" r="0.50" fill="#666"/>
<circle cx="44.8" cy="418.3" r="0.44" fill="#666"/>
<circle cx="52.5" cy="407.8" r="0.38" fill="#666"/>
<circle cx="57.9" cy="409.6" r="0.45" fill="#666"/>
<circle cx="68.0" cy="413.6" r="0.38" fill="#666"/>
<circle cx="57.6" cy="401.4" r="0.38" fill="#666"/>
<circle cx="53.1" cy="405.3" r="0.62" fill="#666"/>
<circle cx="34.6" cy="403.0" r="0.61" fill="#666"/>
<circle cx="39.4" cy="415.3" r="0.61" fill="#666"/>
<circle cx="47.7" cy="411.7" r="0.60" fill="#666"/>
<circle cx="50.9" cy="412.1" r="0.56" fill="#666"/>
<circle cx="63.0" cy="419.6" r="0.61" fill="#666"/>
<circle cx="40.3" cy="390.3" r="0.38" fill="#666"/>
<circle cx="61.7" cy="414.9" r="0.32" fill="#666"/>
<circle cx="67.8" cy="412.9" r="0.42" fill="#666"/>
<circle cx="58.7" cy="386.2" r="0.56" fill="#666"/>
<circle cx="74.7" cy="408.6" r="0.39" fill="#666"/>
<circle cx="76.5" cy="410.1" r="0.55" fill="#666"/>
<circle cx="54.9" cy="422.9" r="0.64" fill="#666"/>
<circle cx="51.5" cy="417.1" r="0.45" fill="#666"/>
<circle cx="39.7" cy="394.0" r="0.34" fill="#666"/>
<circle cx="37.2" cy="407.3" r="0.44" fill="#666"/>
<circle cx="37.1" cy="392.5" r="0.39" fill="#666"/>
<circle cx="41.0" cy="399.4" r="0.31" fill="#666"/>
<circle cx="64.8" cy="407.5" r="0.59" fill="#666"/>
<circle cx="41.9" cy="392.0" r="0.49" fill="#666"/>
<circle cx="45.6" cy="406.5" r="0.39" fill="#666"/>
<circle cx="67.9" cy="416.5" r="0.58" fill="#666"/>
<circle cx="57.4" cy="419.6" r="0.57" fill="#666"/>
<circle cx="61.7" cy="396.7" r="0.40" fill="#666"/>
<circle cx="38.1" cy="402.4" r="0.50" fill="#666"/>
<circle cx="47.6" cy="402.5" r="0.42" fill="#666"/>
<circle cx="54.8" cy="400.0" r="0.41" fill="#666"/>
<circle cx="52.4" cy="416.1" r="0.54" fill="#666"/>
<circle cx="57.5" cy="409.5" r="0.43" fill="#666"/>
<circle cx="45.8" cy="407.2" r="0.61" fill="#666"/>
<circle cx="75.8" cy="402.9" r="0.65" fill="#666"/>
<circle cx="55.8" cy="418.6" r="0.44" fill="#666"/>
<circle cx="47.3" cy="386.4" r="0.52" fill="#666"/>
<circle cx="59.6" cy="395.6" r="0.30" fill="#666"/>
<circle cx="51.9" cy="398.8" r="0.44" fill="#666"/>
<circle cx="77.6" cy="406.5" r="0.56" fill="#666"/>
<circle cx="57.5" cy="414.3" r="0.52" fill="#666"/>
<circle cx="66.0" cy="408.7" r="0.44" fill="#666"/>
<circle cx="64.9" cy="408.9" r="0.63" fill="#666"/>
<circle cx="73.3" cy="419.2" r="0.57" fill="#666"/>
<circle cx="75.1" cy="407.5" r="0.42" fill="#666"/>
<circle cx="45.1" cy="412.5" r="0.61" fill="#666"/>
<circle cx="60.3" cy="385.6" r="0.59" fill="#666"/>
<circle cx="57.1" cy="400.8" r="0.32" fill="#666"/>
<circle cx="58.5" cy="414.2" r="0.45" fill="#666"/>
<circle cx="50.0" cy="410.0" r="0.31" fill="#666"/>
<circle cx="58.3" cy="424.0" r="0.54" fill="#666"/>
<circle cx="52.6" cy="411.5" r="0.51" fill="#666"/>
<circle cx="42.1" cy="388.3" r="0.61" fill="#666"/>
<circle cx="75.9" cy="403.5" r="0.43" fill="#666"/>
<circle cx="58.5" cy="413.9" r="0.36" fill="#666"/>
<circle cx="66.2" cy="412.7" r="0.59" fill="#666"/>
<circle cx="45.4" cy="407.7" r="0.38" fill="#666"/>
<circle cx="61.2" cy="386.5" r="0.58" fill="#666"/>
<circle cx="77.8" cy="394.2" r="0.38" fill="#666"/>
<circle cx="79.6" cy="408.3" r="0.41" fill="#666"/>
<circle cx="54.2" cy="415.1" r="0.57" fill="#666"/>
<circle cx="41.0" cy="408.5" r="0.36" fill="#666"/>
<circle cx="63.7" cy="390.9" r="0.48" fill="#666"/>
<circle cx="69.6" cy="395.7" r="0.56" fill="#666"/>
<circle cx="43.8" cy="413.0" r="0.55" fill="#666"/>
<circle cx="47.3" cy="383.3" r="0.44" fill="#666"/>
<circle cx="57.5" cy="383.0" r="0.37" fill="#666"/>
<circle cx="64.1" cy="394.8" r="0.59" fill="#666"/>
<circle cx="37.1" cy="411.7" r="0.33" fill="#666"/>
<circle cx="52.4" cy="402.2" r="0.43" fill="#666"/>
<circle cx="39.9" cy="389.4" r="0.59" fill="#666"/>
<circle cx="55.9" cy="406.3" r="0.37" fill="#666"/>
<circle cx="69.6" cy="394.2" r="0.51" fill="#666"/>
<circle cx="77.4" cy="393.7" r="0.43" fill="#666"/>
<circle cx="62.3" cy="422.7" r="0.44" fill="#666"/>
<circle cx="51.3" cy="384.5" r="0.46" fill="#666"/>
<circle cx="45.6" cy="383.9" r="0.33" fill="#666"/>
<circle cx="71.2" cy="411.4" r="0.60" fill="#666"/>
<circle cx="66.8" cy="397.1" r="0.52" fill="#666"/>
<circle cx="81.6" cy="406.8" r="0.42" fill="#666"/>
<circle cx="63.6" cy="405.3" r="0.48" fill="#666"/>
<circle cx="53.1" cy="387.8" r="0.61" fill="#666"/>
<circle cx="53.8" cy="410.3" r="0.55" fill="#666"/>
<circle cx="71.1" cy="413.1" r="0.56" fill="#666"/>
<circle cx="74.9" cy="400.9" r="0.43" fill="#666"/>
<circle cx="59.6" cy="399.7" r="0.34" fill="#666"/>
<circle cx="52.2" cy="412.5" r="0.61" fill="#666"/>
<circle cx="51.6" cy="413.7" r="0.41" fill="#666"/>
<circle cx="47.2" cy="398.8" r="0.39" fill="#666"/>
<circle cx="61.0" cy="394.2" r="0.42" fill="#666"/>
<circle cx="62.5" cy="383.3" r="0.53" fill="#666"/>
<circle cx="69.8" cy="418.6" r="0.55" fill="#666"/>
<circle cx="59.8" cy="421.6" r="0.59" fill="#666"/>
<circle cx="46.5" cy="385.8" r="0.43" fill="#666"/>
<circle cx="59.0" cy="382.9" r="0.42" fill="#666"/>
<circle cx="75.0" cy="409.7" r="0.41" fill="#666"/>
<circle cx="46.9" cy="395.3" r="0.41" fill="#666"/>
<circle cx="71.4" cy="402.5" r="0.48" fill="#666"/>
<circle cx="48.4" cy="394.1" r="0.32" fill="#666"/>
<circle cx="59.2" cy="406.1" r="0.65" fill="#666"/>
<circle cx="73.3" cy="412.2" r="0.56" fill="#666"/>
<circle cx="65.7" cy="397.7" r="0.46" fill="#666"/>
<circle cx="68.1" cy="405.4" r="0.62" fill="#666"/>
<circle cx="40.7" cy="398.1" r="0.55" fill="#666"/>
<circle cx="60.4" cy="391.1" r="0.34" fill="#666"/>
<circle cx="44.9" cy="408.8" r="0.48" fill="#666"/>
<circle cx="77.0" cy="409.3" r="0.36" fill="#666"/>
<circle cx="50.7" cy="419.2" r="0.55" fill="#666"/>
<circle cx="46.1" cy="421.3" r="0.51" fill="#666"/>
<circle cx="53.8" cy="410.9" r="0.49" fill="#666"/>
<circle cx="70.2" cy="417.6" r="0.65" fill="#666"/>
<circle cx="44.7" cy="387.9" r="0.56" fill="#666"/>
<circle cx="72.6" cy="403.1" r="0.47" fill="#666"/>
<circle cx="52.7" cy="420.9" r="0.58" fill="#666"/>
<circle cx="77.0" cy="400.4" r="0.37" fill="#666"/>
<circle cx="47.0" cy="411.7" r="0.30" fill="#666"/>
<circle cx="37.2" cy="392.8" r="0.61" fill="#666"/>
<circle cx="60.2" cy="405.9" r="0.49" fill="#666"/>
<circle cx="59.3" cy="404.4" r="0.59" fill="#666"/>
<circle cx="65.0" cy="393.1" r="0.41" fill="#666"/>
<circle cx="58.2" cy="406.6" r="0.49" fill="#666"/>
<circle cx="70.7" cy="405.6" r="0.43" fill="#666"/>
<circle cx="79.4" cy="410.6" r="0.61" fill="#666"/>
<circle cx="51.6" cy="400.7" r="0.58" fill="#666"/>
<circle cx="51.0" cy="414.5" r="0.47" fill="#666"/>
<circle cx="49.0" cy="400.3" r="0.34" fill="#666"/>
<circle cx="50.0" cy="398.3" r="0.31" fill="#666"/>
<circle cx="40.1" cy="390.8" r="0.60" fill="#666"/>
<circle cx="62.8" cy="392.1" r="0.65" fill="#666"/>
<circle cx="44.7" cy="403.1" r="0.56" fill="#666"/>
<circle cx="68.3" cy="399.2" r="0.57" fill="#666"/>
<circle cx="57.1" cy="412.8" r="0.47" fill="#666"/>
<circle cx="52.4" cy="413.2" r="0.59" fill="#666"/>
<circle cx="35.6" cy="407.8" r="0.65" fill="#666"/>
<circle cx="60.6" cy="404.1" r="0.42" fill="#666"/>
<circle cx="36.3" cy="405.0" r="0.45" fill="#666"/>
<circle cx="67.2" cy="383.9" r="0.39" fill="#666"/>
<circle cx="45.9" cy="401.4" r="0.58" fill="#666"/>
<circle cx="51.9" cy="410.6" r="0.40" fill="#666"/>
<circle cx="58.3" cy="422.0" r="0.34" fill="#666"/>
<circle cx="51.7" cy="422.0" r="0.37" fill="#666"/>
<circle cx="59.0" cy="398.4" r="0.61" fill="#666"/>
<circle cx="57.5" cy="421.5" r="0.49" fill="#666"/>
<circle cx="42.4" cy="415.0" r="0.42" fill="#666"/>
<circle cx="45.3" cy="404.4" r="0.45" fill="#666"/>
<circle cx="72.0" cy="419.0" r="0.38" fill="#666"/>
<circle cx="45.6" cy="412.4" r="0.44" fill="#666"/>
<circle cx="61.2" cy="407.2" r="0.64" fill="#666"/>
<circle cx="59.7" cy="407.7" r="0.35" fill="#666"/>
<circle cx="53.2" cy="391.7" r="0.54" fill="#666"/>
<circle cx="45.2" cy="388.6" r="0.43" fill="#666"/>
<circle cx="56.3" cy="394.6" r="0.51" fill="#666"/>
<circle cx="68.5" cy="404.1" r="0.32" fill="#666"/>
<circle cx="48.4" cy="411.6" r="0.53" fill="#666"/>
<circle cx="47.9" cy="402.1" r="0.42" fill="#666"/>
<circle cx="60.0" cy="412.2" r="0.50" fill="#666"/>
<circle cx="68.0" cy="389.2" r="0.37" fill="#666"/>
<circle cx="61.6" cy="421.0" r="0.45" fill="#666"/>
<circle cx="47.3" cy="408.0" r="0.33" fill="#666"/>
<circle cx="42.9" cy="411.1" r="0.64" fill="#666"/>
<circle cx="49.3" cy="407.3" r="0.48" fill="#666"/>
<circle cx="38.3" cy="390.3" r="0.57" fill="#666"/>
<circle cx="36.3" cy="393.5" r="0.39" fill="#666"/>
<circle cx="38.3" cy="397.5" r="0.63" fill="#666"/>
<circle cx="65.4" cy="389.9" r="0.54" fill="#666"/>
<circle cx="45.6" cy="403.1" r="0.41" fill="#666"/>
<circle cx="74.4" cy="409.2" r="0.60" fill="#666"/>
<circle cx="63.7" cy="420.3" r="0.44" fill="#666"/>
<circle cx="67.6" cy="408.2" r="0.48" fill="#666"/>
<circle cx="61.4" cy="404.1" r="0.44" fill="#666"/>
<circle cx="79.6" cy="408.8" r="0.49" fill="#666"/>
<circle cx="33.6" cy="402.8" r="0.36" fill="#666"/>
<circle cx="42.4" cy="399.2" r="0.49" fill="#666"/>
<circle cx="44.3" cy="391.3" r="0.49" fill="#666"/>
<circle cx="56.4" cy="397.7" r="0.34" fill="#666"/>
<circle cx="51.0" cy="409.9" r="0.49" fill="#666"/>
<circle cx="60.3" cy="419.0" r="0.55" fill="#666"/>
<circle cx="47.5" cy="411.2" r="0.35" fill="#666"/>
<circle cx="48.9" cy="421.2" r="0.36" fill="#666"/>
<circle cx="76.9" cy="396.7" r="0.45" fill="#666"/>
<circle cx="37.1" cy="407.3" r="0.39" fill="#666"/>
<circle cx="67.0" cy="416.9" r="0.51" fill="#666"/>
<circle cx="80.7" cy="409.3" r="0.43" fill="#666"/>
<circle cx="61.3" cy="420.9" r="0.46" fill="#666"/>
<circle cx="73.1" cy="407.2" r="0.45" fill="#666"/>
<circle cx="81.5" cy="398.0" r="0.51" fill="#666"/>
<circle cx="58.3" cy="395.4" r="0.39" fill="#666"/>
<circle cx="66.3" cy="417.0" r="0.59" fill="#666"/>
<circle cx="44.0" cy="417.3" r="0.38" fill="#666"/>
<circle cx="61.3" cy="395.5" r="0.36" fill="#666"/>
<circle cx="47.8" cy="420.8" r="0.42" fill="#666"/>
<circle cx="54.4" cy="396.4" r="0.40" fill="#666"/>
<circle cx="75.1" cy="399.5" r="0.54" fill="#666"/>
<circle cx="65.2" cy="403.3" r="0.32" fill="#666"/>
<circle cx="67.3" cy="421.3" r="0.36" fill="#666"/>
<circle cx="65.7" cy="401.8" r="0.42" fill="#666"/>
<circle cx="51.5" cy="418.6" r="0.36" fill="#666"/>
<circle cx="66.4" cy="416.2" r="0.46" fill="#666"/>
<circle cx="56.3" cy="402.0" r="0.57" fill="#666"/>
<circle cx="70.0" cy="387.6" r="0.45" fill="#666"/>
<circle cx="60.2" cy="405.9" r="0.62" fill="#666"/>
<circle cx="51.2" cy="383.5" r="0.31" fill="#666"/>
<circle cx="72.4" cy="410.5" r="0.58" fill="#666"/>
<circle cx="46.4" cy="385.7" r="0.64" fill="#666"/>
<circle cx="65.2" cy="413.8" r="0.62" fill="#666"/>
<circle cx="60.0" cy="397.1" r="0.30" fill="#666"/>
<circle cx="80.1" cy="410.3" r="0.42" fill="#666"/>
<circle cx="43.7" cy="415.7" r="0.63" fill="#666"/>
<circle cx="62.5" cy="403.0" r="0.45" fill="#666"/>
<circle cx="70.1" cy="412.1" r="0.54" fill="#666"/>
<circle cx="66.3" cy="404.2" r="0.39" fill="#666"/>
<circle cx="65.7" cy="396.9" r="0.50" fill="#666"/>
<circle cx="65.6" cy="401.4" r="0.64" fill="#666"/>
<circle cx="45.8" cy="398.3" r="0.51" fill="#666"/>
<circle cx="48.0" cy="404.1" r="0.46" fill="#666"/>
<circle cx="58.0" cy="398.4" r="0.36" fill="#666"/>
<circle cx="52.2" cy="397.0" r="0.37" fill="#666"/>
<circle cx="75.1" cy="395.6" r="0.35" fill="#666"/>
<circle cx="61.5" cy="419.1" r="0.57" fill="#666"/>
<circle cx="64.5" cy="413.6" r="0.42" fill="#666"/>
<circle cx="38.5" cy="390.5" r="0.42" fill="#666"/>
<circle cx="45.9" cy="400.8" r="0.35" fill="#666"/>
<circle cx="37.8" cy="390.4" r="0.37" fill="#666"/>
<circle cx="74.3" cy="404.2" r="0.37" fill="#666"/>
<circle cx="54.0" cy="420.4" r="0.50" fill="#666"/>
<circle cx="60.8" cy="397.1" r="0.37" fill="#666"/>
<circle cx="64.7" cy="381.9" r="0.58" fill="#666"/>
<circle cx="51.5" cy="411.2" r="0.51" fill="#666"/>
<circle cx="37.7" cy="404.3" r="0.33" fill="#666"/>
<circle cx="43.8" cy="396.7" r="0.40" fill="#666"/>
<circle cx="50.1" cy="418.8" r="0.38" fill="#666"/>
<circle cx="69.3" cy="395.0" r="0.49" fill="#666"/>
<circle cx="42.1" cy="400.6" r="0.40" fill="#666"/>
<circle cx="74.8" cy="406.9" r="0.52" fill="#666"/>
<circle cx="71.8" cy="390.5" r="0.32" fill="#666"/>
<circle cx="75.8" cy="393.5" r="0.58" fill="#666"/>
<circle cx="65.2" cy="390.1" r="0.37" fill="#666"/>
<circle cx="58.3" cy="384.1" r="0.62" fill="#666"/>
<circle cx="69.2" cy="417.9" r="0.43" fill="#666"/>
<circle cx="69.7" cy="390.5" r="0.30" fill="#666"/>
<circle cx="72.2" cy="396.5" r="0.47" fill="#666"/>
<circle cx="64.1" cy="391.2" r="0.52" fill="#666"/>
<circle cx="58.1" cy="419.6" r="0.64" fill="#666"/>
<circle cx="72.5" cy="398.6" r="0.40" fill="#666"/>
<circle cx="37.8" cy="405.3" r="0.46" fill="#666"/>
<circle cx="75.5" cy="404.3" r="0.62" fill="#666"/>
<circle cx="53.7" cy="399.6" r="0.63" fill="#666"/>
<circle cx="63.1" cy="387.4" r="0.48" fill="#666"/>
<circle cx="59.1" cy="387.7" r="0.43" fill="#666"/>
<circle cx="80.0" cy="400.4" r="0.59" fill="#666"/>
<circle cx="65.8" cy="397.3" r="0.62" fill="#666"/>
<circle cx="56.3" cy="423.4" r="0.49" fill="#666"/>
<circle cx="80.2" cy="401.3" r="0.45" fill="#666"/>
<circle cx="62.7" cy="393.6" r="0.35" fill="#666"/>
<circle cx="62.8" cy="419.4" r="0.40" fill="#666"/>
<circle cx="72.9" cy="398.3" r="0.65" fill="#666"/>
<circle cx="73.7" cy="406.1" r="0.34" fill="#666"/>
<circle cx="79.8" cy="394.5" r="0.43" fill="#666"/>
<circle cx="60.7" cy="409.1" r="0.50" fill="#666"/>
<circle cx="57.1" cy="408.9" r="0.60" fill="#666"/>
<circle cx="55.0" cy="402.4" r="0.58" fill="#666"/>
<circle cx="48.4" cy="388.6" r="0.61" fill="#666"/>
<circle cx="48.0" cy="402.8" r="0.59" fill="#666"/>
<circle cx="75.3" cy="391.1" r="0.64" fill="#666"/>
<circle cx="60.6" cy="406.0" r="0.52" fill="#666"/>
<circle cx="70.2" cy="390.9" r="0.37" fill="#666"/>
<circle cx="45.8" cy="401.5" r="0.56" fill="#666"/>
<circle cx="47.1" cy="420.5" r="0.64" fill="#666"/>
<circle cx="54.8" cy="395.8" r="0.56" fill="#666"/>
<circle cx="66.8" cy="420.4" r="0.45" fill="#666"/>
<circle cx="62.6" cy="384.1" r="0.39" fill="#666"/>
<circle cx="59.4" cy="388.3" r="0.40" fill="#666"/>
<circle cx="57.4" cy="396.2" r="0.44" fill="#666"/>
<circle cx="66.2" cy="387.6" r="0.36" fill="#666"/>
<circle cx="67.9" cy="392.6" r="0.63" fill="#666"/>
<circle cx="53.9" cy="401.1" r="0.31" fill="#666"/>
<circle cx="64.7" cy="410.4" r="0.63" fill="#666"/>
<circle cx="54.2" cy="412.5" r="0.42" fill="#666"/>
<circle cx="34.7" cy="398.5" r="0.55" fill="#666"/>
<circle cx="76.0" cy="405.5" r="0.49" fill="#666"/>
<circle cx="58.0" cy="401.3" r="0.54" fill="#666"/>
<circle cx="62.0" cy="419.7" r="0.46" fill="#666"/>
<circle cx="56.3" cy="418.5" r="0.54" fill="#666"/>
<circle cx="59.2" cy="405.5" r="0.58" fill="#666"/>
<circle cx="63.7" cy="390.7" r="0.41" fill="#666"/>
<circle cx="55.6" cy="421.4" r="0.38" fill="#666"/>
<circle cx="54.9" cy="412.1" r="0.62" fill="#666"/>
<circle cx="68.6" cy="408.5" r="0.43" fill="#666"/>
<circle cx="54.5" cy="409.3" r="0.42" fill="#666"/>
<circle cx="71.6" cy="414.1" r="0.41" fill="#666"/>
<circle cx="62.8" cy="416.3" r="0.60" fill="#666"/>
<circle cx="65.8" cy="384.4" r="0.54" fill="#666"/>
<circle cx="68.8" cy="387.1" r="0.57" fill="#666"/>
<circle cx="58.1" cy="406.0" r="0.43" fill="#666"/>
<ellipse cx="116.0" cy="402.6" rx="27.0" ry="24.2" fill="url(#dg1)" stroke="#a8a8a8" stroke-width="0.8"/>
<ellipse cx="116.0" cy="402.6" rx="25.0" ry="22.2" fill="none" stroke="#f4f4f4" stroke-width="1.4"/>
<path d="M89.5,406.6 A26.5,23.7 0 0 0 122.0,426.2" fill="none" stroke="#b8b8b8" stroke-width="1.6"/>
<circle cx="104.9" cy="398.7" r="0.48" fill="#666"/>
<circle cx="113.9" cy="420.3" r="0.33" fill="#666"/>
<circle cx="121.8" cy="408.3" r="0.52" fill="#666"/>
<circle cx="102.1" cy="397.5" r="0.37" fill="#666"/>
<circle cx="105.6" cy="402.5" r="0.54" fill="#666"/>
<circle cx="118.9" cy="420.7" r="0.48" fill="#666"/>
<circle cx="106.1" cy="407.6" r="0.50" fill="#666"/>
<circle cx="104.8" cy="404.9" r="0.40" fill="#666"/>
<circle cx="93.7" cy="402.2" r="0.48" fill="#666"/>
<circle cx="136.0" cy="414.6" r="0.56" fill="#666"/>
<circle cx="109.1" cy="389.6" r="0.34" fill="#666"/>
<circle cx="116.8" cy="403.1" r="0.35" fill="#666"/>
<circle cx="99.8" cy="392.7" r="0.49" fill="#666"/>
<circle cx="102.6" cy="389.7" r="0.37" fill="#666"/>
<circle cx="119.0" cy="400.3" r="0.42" fill="#666"/>
<circle cx="99.0" cy="409.4" r="0.57" fill="#666"/>
<circle cx="100.8" cy="386.9" r="0.62" fill="#666"/>
<circle cx="107.6" cy="406.9" r="0.45" fill="#666"/>
<circle cx="131.8" cy="410.6" r="0.34" fill="#666"/>
<circle cx="99.9" cy="414.5" r="0.34" fill="#666"/>
<circle cx="100.9" cy="392.2" r="0.39" fill="#666"/>
<circle cx="111.8" cy="390.4" r="0.31" fill="#666"/>
<circle cx="102.6" cy="387.8" r="0.42" fill="#666"/>
<circle cx="113.5" cy="420.7" r="0.53" fill="#666"/>
<circle cx="122.2" cy="420.2" r="0.44" fill="#666"/>
<circle cx="112.0" cy="390.2" r="0.59" fill="#666"/>
<circle cx="121.7" cy="383.9" r="0.33" fill="#666"/>
<circle cx="117.7" cy="423.0" r="0.63" fill="#666"/>
<circle cx="129.8" cy="396.3" r="0.46" fill="#666"/>
<circle cx="108.0" cy="397.6" r="0.46" fill="#666"/>
<circle cx="98.1" cy="405.8" r="0.61" fill="#666"/>
<circle cx="127.4" cy="385.6" r="0.46" fill="#666"/>
<circle cx="122.9" cy="384.9" r="0.33" fill="#666"/>
<circle cx="122.1" cy="389.8" r="0.53" fill="#666"/>
<circle cx="105.7" cy="399.1" r="0.49" fill="#666"/>
<circle cx="134.6" cy="411.5" r="0.32" fill="#666"/>
<circle cx="99.1" cy="404.3" r="0.64" fill="#666"/>
<circle cx="128.2" cy="387.7" r="0.42" fill="#666"/>
<circle cx="131.2" cy="408.7" r="0.53" fill="#666"/>
<circle cx="107.5" cy="384.2" r="0.63" fill="#666"/>
<circle cx="100.3" cy="390.4" r="0.60" fill="#666"/>
<circle cx="106.7" cy="397.9" r="0.43" fill="#666"/>
<circle cx="108.9" cy="421.5" r="0.35" fill="#666"/>
<circle cx="101.3" cy="393.5" r="0.48" fill="#666"/>
<circle cx="137.7" cy="404.5" r="0.62" fill="#666"/>
<circle cx="118.3" cy="399.3" r="0.61" fill="#666"/>
<circle cx="120.4" cy="401.4" r="0.48" fill="#666"/>
<circle cx="108.2" cy="399.4" r="0.33" fill="#666"/>
<circle cx="100.1" cy="415.3" r="0.35" fill="#666"/>
<circle cx="100.2" cy="386.3" r="0.43" fill="#666"/>
<circle cx="121.9" cy="411.2" r="0.60" fill="#666"/>
<circle cx="93.7" cy="409.6" r="0.37" fill="#666"/>
<circle cx="107.5" cy="406.2" r="0.59" fill="#666"/>
<circle cx="119.2" cy="385.0" r="0.32" fill="#666"/>
<circle cx="106.2" cy="414.3" r="0.50" fill="#666"/>
<circle cx="137.1" cy="406.1" r="0.47" fill="#666"/>
<circle cx="111.4" cy="381.9" r="0.32" fill="#666"/>
<circle cx="124.6" cy="420.0" r="0.31" fill="#666"/>
<circle cx="98.7" cy="394.2" r="0.41" fill="#666"/>
<circle cx="134.0" cy="390.6" r="0.41" fill="#666"/>
<circle cx="104.9" cy="409.1" r="0.32" fill="#666"/>
<circle cx="112.3" cy="423.3" r="0.38" fill="#666"/>
<circle cx="108.2" cy="410.1" r="0.50" fill="#666"/>
<circle cx="120.1" cy="407.9" r="0.54" fill="#666"/>
<circle cx="106.4" cy="395.4" r="0.44" fill="#666"/>
<circle cx="117.2" cy="405.8" r="0.61" fill="#666"/>
<circle cx="110.4" cy="400.1" r="0.59" fill="#666"/>
<circle cx="128.4" cy="390.4" r="0.56" fill="#666"/>
<circle cx="119.8" cy="412.3" r="0.62" fill="#666"/>
<circle cx="131.9" cy="405.7" r="0.47" fill="#666"/>
<circle cx="119.4" cy="414.3" r="0.36" fill="#666"/>
<circle cx="128.2" cy="418.2" r="0.45" fill="#666"/>
<circle cx="126.1" cy="410.5" r="0.41" fill="#666"/>
<circle cx="108.3" cy="386.2" r="0.45" fill="#666"/>
<circle cx="98.4" cy="402.1" r="0.30" fill="#666"/>
<circle cx="106.8" cy="387.1" r="0.62" fill="#666"/>
<circle cx="122.3" cy="393.3" r="0.49" fill="#666"/>
<circle cx="112.1" cy="400.6" r="0.49" fill="#666"/>
<circle cx="98.2" cy="408.2" r="0.63" fill="#666"/>
<circle cx="121.0" cy="416.5" r="0.40" fill="#666"/>
<circle cx="109.5" cy="410.1" r="0.56" fill="#666"/>
<circle cx="122.4" cy="399.7" r="0.59" fill="#666"/>
<circle cx="112.9" cy="418.8" r="0.32" fill="#666"/>
<circle cx="109.9" cy="399.9" r="0.36" fill="#666"/>
<circle cx="113.2" cy="419.7" r="0.31" fill="#666"/>
<circle cx="113.3" cy="397.3" r="0.62" fill="#666"/>
<circle cx="130.9" cy="386.8" r="0.51" fill="#666"/>
<circle cx="98.7" cy="415.9" r="0.49" fill="#666"/>
<circle cx="134.9" cy="399.8" r="0.61" fill="#666"/>
<circle cx="114.3" cy="423.4" r="0.46" fill="#666"/>
<circle cx="116.4" cy="386.3" r="0.49" fill="#666"/>
<circle cx="112.1" cy="421.4" r="0.56" fill="#666"/>
<circle cx="114.8" cy="385.6" r="0.35" fill="#666"/>
<circle cx="101.1" cy="417.7" r="0.38" fill="#666"/>
<circle cx="113.5" cy="420.9" r="0.34" fill="#666"/>
<circle cx="97.2" cy="396.5" r="0.41" fill="#666"/>
<circle cx="115.3" cy="400.0" r="0.56" fill="#666"/>
<circle cx="105.4" cy="406.5" r="0.41" fill="#666"/>
<circle cx="129.7" cy="386.8" r="0.47" fill="#666"/>
<circle cx="113.1" cy="400.6" r="0.49" fill="#666"/>
<circle cx="118.0" cy="393.7" r="0.59" fill="#666"/>
<circle cx="123.3" cy="413.4" r="0.41" fill="#666"/>
<circle cx="121.0" cy="400.8" r="0.47" fill="#666"/>
<circle cx="110.3" cy="404.4" r="0.38" fill="#666"/>
<circle cx="102.0" cy="388.1" r="0.51" fill="#666"/>
<circle cx="102.2" cy="416.2" r="0.62" fill="#666"/>
<circle cx="130.0" cy="394.3" r="0.63" fill="#666"/>
<circle cx="107.6" cy="395.9" r="0.51" fill="#666"/>
<circle cx="124.7" cy="398.2" r="0.58" fill="#666"/>
<circle cx="135.1" cy="392.4" r="0.38" fill="#666"/>
<circle cx="110.5" cy="412.2" r="0.53" fill="#666"/>
<circle cx="98.5" cy="397.2" r="0.62" fill="#666"/>
<circle cx="131.1" cy="419.0" r="0.38" fill="#666"/>
<circle cx="109.8" cy="412.8" r="0.40" fill="#666"/>
<circle cx="112.4" cy="417.5" r="0.33" fill="#666"/>
<circle cx="111.0" cy="385.8" r="0.49" fill="#666"/>
<circle cx="129.7" cy="385.4" r="0.45" fill="#666"/>
<circle cx="118.3" cy="409.3" r="0.55" fill="#666"/>
<circle cx="120.6" cy="384.7" r="0.35" fill="#666"/>
<circle cx="107.0" cy="416.8" r="0.55" fill="#666"/>
<circle cx="106.1" cy="385.0" r="0.43" fill="#666"/>
<circle cx="98.4" cy="389.8" r="0.47" fill="#666"/>
<circle cx="115.4" cy="423.1" r="0.33" fill="#666"/>
<circle cx="117.8" cy="405.7" r="0.35" fill="#666"/>
<circle cx="108.5" cy="385.1" r="0.61" fill="#666"/>
<circle cx="114.7" cy="404.0" r="0.61" fill="#666"/>
<circle cx="127.8" cy="388.4" r="0.62" fill="#666"/>
<circle cx="99.2" cy="417.0" r="0.58" fill="#666"/>
<circle cx="110.6" cy="383.5" r="0.55" fill="#666"/>
<circle cx="124.2" cy="410.7" r="0.35" fill="#666"/>
<circle cx="109.1" cy="395.3" r="0.56" fill="#666"/>
<circle cx="111.2" cy="396.2" r="0.49" fill="#666"/>
<circle cx="125.2" cy="400.5" r="0.52" fill="#666"/>
<circle cx="131.4" cy="398.5" r="0.60" fill="#666"/>
<circle cx="126.5" cy="410.4" r="0.62" fill="#666"/>
<circle cx="131.1" cy="406.7" r="0.32" fill="#666"/>
<circle cx="113.5" cy="411.7" r="0.48" fill="#666"/>
<circle cx="120.6" cy="395.3" r="0.59" fill="#666"/>
<circle cx="102.3" cy="409.4" r="0.45" fill="#666"/>
<circle cx="96.0" cy="392.3" r="0.47" fill="#666"/>
<circle cx="112.3" cy="401.1" r="0.51" fill="#666"/>
<circle cx="94.2" cy="404.5" r="0.54" fill="#666"/>
<circle cx="118.4" cy="398.2" r="0.62" fill="#666"/>
<circle cx="117.3" cy="401.5" r="0.56" fill="#666"/>
<circle cx="112.6" cy="381.7" r="0.51" fill="#666"/>
<circle cx="135.8" cy="396.3" r="0.33" fill="#666"/>
<circle cx="95.0" cy="410.1" r="0.33" fill="#666"/>
<circle cx="116.7" cy="422.5" r="0.38" fill="#666"/>
<circle cx="105.6" cy="408.0" r="0.50" fill="#666"/>
<circle cx="119.3" cy="397.4" r="0.31" fill="#666"/>
<circle cx="121.1" cy="391.8" r="0.52" fill="#666"/>
<circle cx="112.6" cy="391.4" r="0.65" fill="#666"/>
<circle cx="114.8" cy="404.2" r="0.39" fill="#666"/>
<circle cx="98.4" cy="412.6" r="0.46" fill="#666"/>
<circle cx="120.6" cy="387.2" r="0.48" fill="#666"/>
<circle cx="124.6" cy="415.2" r="0.53" fill="#666"/>
<circle cx="111.3" cy="411.6" r="0.51" fill="#666"/>
<circle cx="114.8" cy="408.9" r="0.41" fill="#666"/>
<circle cx="133.7" cy="390.9" r="0.59" fill="#666"/>
<circle cx="131.6" cy="404.6" r="0.41" fill="#666"/>
<circle cx="113.1" cy="413.7" r="0.62" fill="#666"/>
<circle cx="118.3" cy="384.5" r="0.64" fill="#666"/>
<circle cx="118.0" cy="415.6" r="0.52" fill="#666"/>
<circle cx="92.5" cy="400.8" r="0.30" fill="#666"/>
<circle cx="126.3" cy="405.8" r="0.34" fill="#666"/>
<circle cx="126.0" cy="407.7" r="0.52" fill="#666"/>
<circle cx="113.2" cy="408.0" r="0.49" fill="#666"/>
<circle cx="120.8" cy="411.3" r="0.37" fill="#666"/>
<circle cx="105.5" cy="416.4" r="0.36" fill="#666"/>
<circle cx="93.8" cy="395.5" r="0.54" fill="#666"/>
<circle cx="119.4" cy="391.3" r="0.35" fill="#666"/>
<circle cx="120.2" cy="390.4" r="0.60" fill="#666"/>
<circle cx="104.2" cy="401.4" r="0.45" fill="#666"/>
<circle cx="132.7" cy="387.4" r="0.57" fill="#666"/>
<circle cx="133.5" cy="399.2" r="0.60" fill="#666"/>
<circle cx="108.2" cy="395.6" r="0.62" fill="#666"/>
<circle cx="108.7" cy="420.4" r="0.41" fill="#666"/>
<circle cx="100.8" cy="390.9" r="0.54" fill="#666"/>
<circle cx="94.8" cy="411.5" r="0.61" fill="#666"/>
<circle cx="105.9" cy="416.0" r="0.55" fill="#666"/>
<circle cx="132.1" cy="411.8" r="0.43" fill="#666"/>
<circle cx="113.7" cy="420.3" r="0.35" fill="#666"/>
<circle cx="135.3" cy="409.6" r="0.61" fill="#666"/>
<circle cx="126.9" cy="399.5" r="0.48" fill="#666"/>
<circle cx="120.0" cy="387.0" r="0.43" fill="#666"/>
<circle cx="123.7" cy="407.2" r="0.61" fill="#666"/>
<circle cx="112.4" cy="405.2" r="0.45" fill="#666"/>
<circle cx="129.8" cy="408.7" r="0.63" fill="#666"/>
<circle cx="104.8" cy="408.2" r="0.52" fill="#666"/>
<circle cx="99.9" cy="391.5" r="0.51" fill="#666"/>
<circle cx="103.3" cy="418.6" r="0.34" fill="#666"/>
<circle cx="127.6" cy="416.3" r="0.63" fill="#666"/>
<circle cx="124.7" cy="422.5" r="0.57" fill="#666"/>
<circle cx="113.5" cy="414.7" r="0.40" fill="#666"/>
<circle cx="132.4" cy="398.1" r="0.64" fill="#666"/>
<circle cx="134.4" cy="389.7" r="0.31" fill="#666"/>
<circle cx="132.4" cy="398.3" r="0.33" fill="#666"/>
<circle cx="125.3" cy="422.0" r="0.33" fill="#666"/>
<circle cx="122.0" cy="395.2" r="0.31" fill="#666"/>
<circle cx="105.6" cy="393.3" r="0.49" fill="#666"/>
<circle cx="122.5" cy="419.6" r="0.60" fill="#666"/>
<circle cx="98.2" cy="408.8" r="0.61" fill="#666"/>
<circle cx="102.5" cy="407.6" r="0.65" fill="#666"/>
<circle cx="123.3" cy="412.4" r="0.41" fill="#666"/>
<circle cx="106.4" cy="393.0" r="0.30" fill="#666"/>
<circle cx="115.0" cy="420.7" r="0.57" fill="#666"/>
<circle cx="97.0" cy="390.1" r="0.36" fill="#666"/>
<circle cx="103.0" cy="388.2" r="0.36" fill="#666"/>
<circle cx="118.9" cy="422.6" r="0.60" fill="#666"/>
<circle cx="122.6" cy="393.7" r="0.62" fill="#666"/>
<circle cx="100.7" cy="416.6" r="0.55" fill="#666"/>
<circle cx="105.8" cy="389.0" r="0.52" fill="#666"/>
<circle cx="116.6" cy="416.8" r="0.46" fill="#666"/>
<circle cx="101.5" cy="403.7" r="0.55" fill="#666"/>
<circle cx="118.2" cy="387.7" r="0.39" fill="#666"/>
<circle cx="100.6" cy="407.8" r="0.62" fill="#666"/>
<circle cx="103.3" cy="395.3" r="0.40" fill="#666"/>
<circle cx="113.4" cy="393.1" r="0.39" fill="#666"/>
<circle cx="122.7" cy="411.6" r="0.53" fill="#666"/>
<circle cx="114.7" cy="418.9" r="0.63" fill="#666"/>
<circle cx="118.1" cy="387.8" r="0.30" fill="#666"/>
<circle cx="104.1" cy="390.9" r="0.49" fill="#666"/>
<circle cx="136.2" cy="404.1" r="0.49" fill="#666"/>
<circle cx="104.1" cy="387.1" r="0.47" fill="#666"/>
<circle cx="110.3" cy="422.0" r="0.37" fill="#666"/>
<circle cx="106.1" cy="389.0" r="0.44" fill="#666"/>
<circle cx="136.5" cy="413.6" r="0.51" fill="#666"/>
<circle cx="96.1" cy="398.3" r="0.44" fill="#666"/>
<circle cx="99.5" cy="412.6" r="0.64" fill="#666"/>
<circle cx="119.8" cy="387.6" r="0.48" fill="#666"/>
<circle cx="117.8" cy="386.3" r="0.33" fill="#666"/>
<circle cx="120.7" cy="401.4" r="0.36" fill="#666"/>
<circle cx="133.2" cy="405.8" r="0.58" fill="#666"/>
<circle cx="124.8" cy="420.6" r="0.32" fill="#666"/>
<circle cx="107.2" cy="401.4" r="0.48" fill="#666"/>
<circle cx="108.8" cy="417.9" r="0.50" fill="#666"/>
<circle cx="134.7" cy="399.8" r="0.63" fill="#666"/>
<circle cx="119.6" cy="396.7" r="0.52" fill="#666"/>
<circle cx="94.7" cy="411.6" r="0.51" fill="#666"/>
<circle cx="111.7" cy="406.8" r="0.32" fill="#666"/>
<circle cx="122.8" cy="415.4" r="0.63" fill="#666"/>
<circle cx="113.6" cy="403.2" r="0.61" fill="#666"/>
<circle cx="125.5" cy="391.8" r="0.51" fill="#666"/>
<circle cx="130.4" cy="419.3" r="0.35" fill="#666"/>
<circle cx="98.0" cy="411.7" r="0.55" fill="#666"/>
<circle cx="128.4" cy="402.1" r="0.43" fill="#666"/>
<circle cx="93.6" cy="408.7" r="0.53" fill="#666"/>
<circle cx="100.8" cy="414.2" r="0.36" fill="#666"/>
<circle cx="109.1" cy="409.2" r="0.57" fill="#666"/>
<circle cx="113.5" cy="417.5" r="0.47" fill="#666"/>
<circle cx="124.9" cy="418.7" r="0.50" fill="#666"/>
<circle cx="119.4" cy="423.6" r="0.31" fill="#666"/>
<circle cx="105.8" cy="404.4" r="0.52" fill="#666"/>
<circle cx="134.6" cy="412.9" r="0.31" fill="#666"/>
<circle cx="116.7" cy="397.5" r="0.65" fill="#666"/>
<circle cx="101.5" cy="397.5" r="0.36" fill="#666"/>
<circle cx="122.5" cy="386.3" r="0.59" fill="#666"/>
<circle cx="112.6" cy="419.0" r="0.51" fill="#666"/>
<circle cx="127.6" cy="398.3" r="0.48" fill="#666"/>
<circle cx="103.7" cy="394.7" r="0.62" fill="#666"/>
<circle cx="129.5" cy="386.2" r="0.45" fill="#666"/>
<circle cx="134.1" cy="403.0" r="0.48" fill="#666"/>
<circle cx="116.2" cy="386.7" r="0.65" fill="#666"/>
<circle cx="129.4" cy="392.2" r="0.42" fill="#666"/>
<circle cx="127.2" cy="420.5" r="0.49" fill="#666"/>
<circle cx="104.5" cy="395.8" r="0.49" fill="#666"/>
<circle cx="136.9" cy="412.5" r="0.38" fill="#666"/>
<circle cx="103.2" cy="420.8" r="0.36" fill="#666"/>
<circle cx="97.2" cy="397.0" r="0.36" fill="#666"/>
<circle cx="94.1" cy="405.0" r="0.53" fill="#666"/>
<circle cx="129.1" cy="388.5" r="0.51" fill="#666"/>
<circle cx="110.0" cy="382.4" r="0.59" fill="#666"/>
<circle cx="112.8" cy="395.3" r="0.45" fill="#666"/>
<circle cx="127.3" cy="413.6" r="0.45" fill="#666"/>
<circle cx="103.4" cy="385.7" r="0.32" fill="#666"/>
<circle cx="92.6" cy="407.1" r="0.64" fill="#666"/>
<circle cx="96.8" cy="413.2" r="0.59" fill="#666"/>
<circle cx="122.3" cy="422.5" r="0.55" fill="#666"/>
<circle cx="130.7" cy="392.9" r="0.60" fill="#666"/>
<circle cx="96.5" cy="397.8" r="0.47" fill="#666"/>
<circle cx="93.1" cy="396.2" r="0.35" fill="#666"/>
<circle cx="138.1" cy="399.9" r="0.51" fill="#666"/>
<circle cx="112.0" cy="420.0" r="0.62" fill="#666"/>
<circle cx="122.0" cy="416.0" r="0.62" fill="#666"/>
<circle cx="119.0" cy="401.1" r="0.36" fill="#666"/>
<circle cx="104.0" cy="413.3" r="0.44" fill="#666"/>
<circle cx="118.3" cy="391.5" r="0.64" fill="#666"/>
<circle cx="109.8" cy="383.5" r="0.44" fill="#666"/>
<circle cx="102.0" cy="413.6" r="0.41" fill="#666"/>
<circle cx="127.2" cy="409.2" r="0.40" fill="#666"/>
<circle cx="112.7" cy="406.7" r="0.57" fill="#666"/>
<circle cx="106.1" cy="421.2" r="0.58" fill="#666"/>
<circle cx="126.5" cy="415.1" r="0.32" fill="#666"/>
<circle cx="132.9" cy="400.0" r="0.54" fill="#666"/>
<circle cx="124.1" cy="398.9" r="0.56" fill="#666"/>
<circle cx="130.9" cy="407.2" r="0.57" fill="#666"/>
<circle cx="107.8" cy="398.0" r="0.31" fill="#666"/>
<circle cx="116.9" cy="408.1" r="0.59" fill="#666"/>
<circle cx="98.0" cy="406.0" r="0.55" fill="#666"/>
<circle cx="102.8" cy="411.3" r="0.57" fill="#666"/>
<circle cx="111.2" cy="385.5" r="0.36" fill="#666"/>
<circle cx="124.8" cy="402.8" r="0.52" fill="#666"/>
<circle cx="110.2" cy="397.4" r="0.56" fill="#666"/>
<circle cx="132.4" cy="414.2" r="0.36" fill="#666"/>
<circle cx="123.2" cy="391.4" r="0.40" fill="#666"/>
<circle cx="95.5" cy="410.9" r="0.58" fill="#666"/>
<circle cx="114.2" cy="416.3" r="0.31" fill="#666"/>
<circle cx="111.4" cy="417.9" r="0.34" fill="#666"/>
<circle cx="120.0" cy="420.8" r="0.60" fill="#666"/>
<circle cx="110.5" cy="403.2" r="0.58" fill="#666"/>
<circle cx="125.1" cy="394.2" r="0.60" fill="#666"/>
<circle cx="120.1" cy="383.2" r="0.33" fill="#666"/>
<circle cx="104.2" cy="393.2" r="0.63" fill="#666"/>
<circle cx="113.8" cy="384.1" r="0.64" fill="#666"/>
<circle cx="101.1" cy="409.4" r="0.57" fill="#666"/>
<circle cx="116.5" cy="421.3" r="0.63" fill="#666"/>
<circle cx="108.8" cy="412.7" r="0.33" fill="#666"/>
<circle cx="112.3" cy="410.9" r="0.40" fill="#666"/>
<circle cx="109.2" cy="415.2" r="0.37" fill="#666"/>
<circle cx="101.0" cy="408.1" r="0.38" fill="#666"/>
<circle cx="134.4" cy="395.8" r="0.34" fill="#666"/>
<circle cx="125.1" cy="399.1" r="0.52" fill="#666"/>
<circle cx="104.9" cy="403.3" r="0.37" fill="#666"/>
<circle cx="100.2" cy="418.9" r="0.38" fill="#666"/>
<circle cx="107.7" cy="420.6" r="0.65" fill="#666"/>
<circle cx="132.2" cy="391.8" r="0.38" fill="#666"/>
<circle cx="112.0" cy="385.3" r="0.53" fill="#666"/>
<circle cx="133.4" cy="410.7" r="0.58" fill="#666"/>
<circle cx="97.7" cy="391.6" r="0.59" fill="#666"/>
<circle cx="106.6" cy="414.6" r="0.50" fill="#666"/>
<circle cx="132.1" cy="412.2" r="0.39" fill="#666"/>
<circle cx="126.2" cy="411.7" r="0.43" fill="#666"/>
<circle cx="132.9" cy="387.6" r="0.64" fill="#666"/>
<circle cx="106.8" cy="416.9" r="0.42" fill="#666"/>
<circle cx="120.8" cy="411.8" r="0.63" fill="#666"/>
<circle cx="129.7" cy="391.8" r="0.42" fill="#666"/>
<circle cx="134.6" cy="389.2" r="0.47" fill="#666"/>
<circle cx="107.7" cy="392.1" r="0.31" fill="#666"/>
<circle cx="98.2" cy="414.9" r="0.57" fill="#666"/>
<circle cx="117.9" cy="419.4" r="0.45" fill="#666"/>
<circle cx="97.2" cy="406.8" r="0.59" fill="#666"/>
<circle cx="114.6" cy="423.6" r="0.47" fill="#666"/>
<circle cx="111.1" cy="416.3" r="0.62" fill="#666"/>
<circle cx="137.7" cy="410.3" r="0.38" fill="#666"/>
<circle cx="105.7" cy="405.4" r="0.31" fill="#666"/>
<circle cx="105.1" cy="416.5" r="0.39" fill="#666"/>
<circle cx="124.0" cy="393.1" r="0.35" fill="#666"/>
<circle cx="107.0" cy="393.9" r="0.40" fill="#666"/>
<circle cx="120.0" cy="402.5" r="0.39" fill="#666"/>
<circle cx="104.6" cy="417.1" r="0.42" fill="#666"/>
<circle cx="97.0" cy="397.1" r="0.54" fill="#666"/>
<circle cx="115.7" cy="386.6" r="0.61" fill="#666"/>
<circle cx="117.2" cy="393.2" r="0.45" fill="#666"/>
<circle cx="94.9" cy="408.3" r="0.55" fill="#666"/>
<circle cx="102.0" cy="395.5" r="0.45" fill="#666"/>
<circle cx="127.5" cy="403.6" r="0.31" fill="#666"/>
<circle cx="129.3" cy="417.3" r="0.52" fill="#666"/>
<circle cx="100.3" cy="416.7" r="0.40" fill="#666"/>
<circle cx="125.9" cy="410.3" r="0.43" fill="#666"/>
<circle cx="112.6" cy="422.4" r="0.65" fill="#666"/>
<circle cx="107.0" cy="406.9" r="0.47" fill="#666"/>
<circle cx="100.0" cy="403.1" r="0.33" fill="#666"/>
<circle cx="132.0" cy="398.0" r="0.53" fill="#666"/>
<circle cx="131.1" cy="389.8" r="0.63" fill="#666"/>
<circle cx="125.6" cy="389.0" r="0.57" fill="#666"/>
<circle cx="104.2" cy="391.0" r="0.33" fill="#666"/>
<circle cx="122.4" cy="415.0" r="0.54" fill="#666"/>
<circle cx="105.5" cy="392.8" r="0.32" fill="#666"/>
<circle cx="98.5" cy="390.7" r="0.37" fill="#666"/>
<circle cx="131.1" cy="411.3" r="0.52" fill="#666"/>
<circle cx="117.7" cy="413.4" r="0.38" fill="#666"/>
<circle cx="138.5" cy="397.6" r="0.45" fill="#666"/>
<circle cx="113.4" cy="404.7" r="0.60" fill="#666"/>
<circle cx="124.9" cy="387.7" r="0.51" fill="#666"/>
<circle cx="133.3" cy="390.4" r="0.40" fill="#666"/>
<circle cx="96.9" cy="409.0" r="0.43" fill="#666"/>
<circle cx="128.1" cy="402.6" r="0.38" fill="#666"/>
<circle cx="135.4" cy="404.4" r="0.31" fill="#666"/>
<circle cx="100.8" cy="386.6" r="0.41" fill="#666"/>
<circle cx="97.8" cy="409.6" r="0.51" fill="#666"/>
<circle cx="109.9" cy="390.9" r="0.52" fill="#666"/>
<circle cx="109.3" cy="415.6" r="0.60" fill="#666"/>
<circle cx="105.3" cy="419.6" r="0.44" fill="#666"/>
<circle cx="135.3" cy="408.3" r="0.40" fill="#666"/>
<circle cx="104.1" cy="419.9" r="0.47" fill="#666"/>
<circle cx="97.2" cy="406.5" r="0.35" fill="#666"/>
<circle cx="130.9" cy="388.5" r="0.60" fill="#666"/>
<circle cx="122.2" cy="416.4" r="0.59" fill="#666"/>
<circle cx="138.0" cy="398.9" r="0.43" fill="#666"/>
<circle cx="121.9" cy="401.9" r="0.37" fill="#666"/>
<circle cx="112.4" cy="397.4" r="0.61" fill="#666"/>
<circle cx="119.7" cy="412.5" r="0.34" fill="#666"/>
<circle cx="121.8" cy="383.9" r="0.38" fill="#666"/>
<circle cx="126.1" cy="397.0" r="0.54" fill="#666"/>
<circle cx="107.7" cy="402.9" r="0.58" fill="#666"/>
<circle cx="135.8" cy="396.7" r="0.63" fill="#666"/>
<circle cx="119.4" cy="387.3" r="0.48" fill="#666"/>
<circle cx="125.7" cy="415.3" r="0.34" fill="#666"/>
<circle cx="105.8" cy="411.2" r="0.34" fill="#666"/>
<circle cx="127.8" cy="406.9" r="0.39" fill="#666"/>
<circle cx="99.4" cy="415.4" r="0.51" fill="#666"/>
<circle cx="100.7" cy="397.4" r="0.60" fill="#666"/>
<circle cx="115.9" cy="388.3" r="0.54" fill="#666"/>
<circle cx="102.2" cy="387.6" r="0.51" fill="#666"/>
<circle cx="129.6" cy="406.2" r="0.43" fill="#666"/>
<circle cx="93.3" cy="404.0" r="0.36" fill="#666"/>
<circle cx="119.6" cy="399.4" r="0.49" fill="#666"/>
<circle cx="120.1" cy="405.5" r="0.62" fill="#666"/>
<circle cx="118.9" cy="384.1" r="0.61" fill="#666"/>
<circle cx="129.0" cy="396.2" r="0.46" fill="#666"/>
<circle cx="119.4" cy="397.4" r="0.53" fill="#666"/>
<circle cx="135.6" cy="400.8" r="0.53" fill="#666"/>
<circle cx="114.2" cy="396.5" r="0.35" fill="#666"/>
<circle cx="99.9" cy="401.5" r="0.40" fill="#666"/>
<circle cx="100.2" cy="407.9" r="0.40" fill="#666"/>
<circle cx="101.3" cy="398.9" r="0.37" fill="#666"/>
<circle cx="134.2" cy="402.2" r="0.32" fill="#666"/>
<circle cx="100.0" cy="412.2" r="0.41" fill="#666"/>
<circle cx="105.2" cy="388.6" r="0.30" fill="#666"/>
<circle cx="129.9" cy="394.2" r="0.39" fill="#666"/>
<circle cx="94.7" cy="402.9" r="0.56" fill="#666"/>
<circle cx="115.2" cy="405.0" r="0.45" fill="#666"/>
<circle cx="139.1" cy="407.1" r="0.45" fill="#666"/>
<circle cx="102.6" cy="402.8" r="0.54" fill="#666"/>
<circle cx="116.7" cy="381.8" r="0.63" fill="#666"/>
<circle cx="134.3" cy="396.1" r="0.31" fill="#666"/>
<circle cx="107.3" cy="412.1" r="0.63" fill="#666"/>
<circle cx="133.6" cy="417.3" r="0.51" fill="#666"/>
<circle cx="132.6" cy="389.8" r="0.62" fill="#666"/>
<circle cx="130.0" cy="408.6" r="0.33" fill="#666"/>
<circle cx="117.5" cy="387.0" r="0.49" fill="#666"/>
<circle cx="111.1" cy="385.2" r="0.49" fill="#666"/>
<circle cx="131.7" cy="413.0" r="0.35" fill="#666"/>
<circle cx="99.3" cy="397.8" r="0.59" fill="#666"/>
<circle cx="93.6" cy="397.5" r="0.30" fill="#666"/>
<circle cx="100.4" cy="395.6" r="0.59" fill="#666"/>
<circle cx="122.8" cy="383.0" r="0.58" fill="#666"/>
<circle cx="130.0" cy="393.2" r="0.36" fill="#666"/>
<circle cx="100.8" cy="394.4" r="0.42" fill="#666"/>
<circle cx="117.4" cy="421.5" r="0.64" fill="#666"/>
<circle cx="127.8" cy="390.5" r="0.62" fill="#666"/>
<circle cx="111.3" cy="391.5" r="0.61" fill="#666"/>
<circle cx="115.9" cy="397.1" r="0.41" fill="#666"/>
<circle cx="111.6" cy="390.4" r="0.48" fill="#666"/>
<circle cx="112.5" cy="391.2" r="0.30" fill="#666"/>
<circle cx="136.9" cy="395.3" r="0.63" fill="#666"/>
<circle cx="119.1" cy="420.6" r="0.35" fill="#666"/>
<circle cx="104.0" cy="391.6" r="0.30" fill="#666"/>
<circle cx="92.4" cy="400.5" r="0.55" fill="#666"/>
<circle cx="127.6" cy="393.4" r="0.35" fill="#666"/>
<circle cx="112.0" cy="395.8" r="0.46" fill="#666"/>
<circle cx="104.8" cy="401.4" r="0.64" fill="#666"/>
<circle cx="134.9" cy="402.6" r="0.57" fill="#666"/>
<circle cx="102.3" cy="412.8" r="0.58" fill="#666"/>
<circle cx="122.4" cy="387.3" r="0.38" fill="#666"/>
<circle cx="106.8" cy="395.2" r="0.34" fill="#666"/>
<circle cx="132.4" cy="405.3" r="0.37" fill="#666"/>
<circle cx="131.9" cy="404.4" r="0.58" fill="#666"/>
<circle cx="127.1" cy="399.3" r="0.42" fill="#666"/>
<circle cx="112.3" cy="381.5" r="0.53" fill="#666"/>
<rect x="154.3" y="376.3" width="121.39999999999998" height="53.099999999999966" fill="#dcdcde" stroke="#333" stroke-width="1"/>
<ellipse cx="184.2" cy="402.2" rx="28.6" ry="24.2" fill="url(#dl1)" stroke="#6a6a6a" stroke-width="1.5"/>
<ellipse cx="184.2" cy="402.2" rx="26.6" ry="22.2" fill="none" stroke="#b0b0b0" stroke-width="1.4"/>
<path d="M156.1,406.2 A28.1,23.7 0 0 0 190.2,425.79999999999995" fill="none" stroke="#555" stroke-width="1.6"/>
<circle cx="203.4" cy="413.6" r="0.62" fill="#3a3a3a"/>
<circle cx="173.2" cy="407.3" r="0.59" fill="#3a3a3a"/>
<circle cx="188.8" cy="385.7" r="0.52" fill="#3a3a3a"/>
<circle cx="178.1" cy="413.0" r="0.75" fill="#3a3a3a"/>
<circle cx="181.0" cy="391.0" r="0.36" fill="#3a3a3a"/>
<circle cx="173.8" cy="396.4" r="0.71" fill="#3a3a3a"/>
<circle cx="185.7" cy="405.1" r="0.44" fill="#3a3a3a"/>
<circle cx="163.4" cy="402.7" r="0.75" fill="#3a3a3a"/>
<circle cx="194.2" cy="386.8" r="0.71" fill="#3a3a3a"/>
<circle cx="201.2" cy="413.5" r="0.71" fill="#3a3a3a"/>
<circle cx="199.2" cy="416.2" r="0.49" fill="#3a3a3a"/>
<circle cx="164.8" cy="414.5" r="0.64" fill="#3a3a3a"/>
<circle cx="182.0" cy="403.7" r="0.55" fill="#3a3a3a"/>
<circle cx="203.2" cy="395.1" r="0.70" fill="#3a3a3a"/>
<circle cx="207.1" cy="400.3" r="0.58" fill="#3a3a3a"/>
<circle cx="183.4" cy="388.7" r="0.48" fill="#3a3a3a"/>
<circle cx="195.6" cy="386.0" r="0.71" fill="#3a3a3a"/>
<circle cx="196.0" cy="402.4" r="0.56" fill="#3a3a3a"/>
<circle cx="192.9" cy="406.5" r="0.47" fill="#3a3a3a"/>
<circle cx="167.5" cy="402.8" r="0.72" fill="#3a3a3a"/>
<circle cx="202.5" cy="413.1" r="0.71" fill="#3a3a3a"/>
<circle cx="166.5" cy="414.0" r="0.37" fill="#3a3a3a"/>
<circle cx="192.9" cy="391.2" r="0.44" fill="#3a3a3a"/>
<circle cx="185.5" cy="419.3" r="0.45" fill="#3a3a3a"/>
<circle cx="179.8" cy="412.7" r="0.36" fill="#3a3a3a"/>
<circle cx="176.3" cy="386.3" r="0.62" fill="#3a3a3a"/>
<circle cx="166.1" cy="411.5" r="0.50" fill="#3a3a3a"/>
<circle cx="175.3" cy="407.8" r="0.65" fill="#3a3a3a"/>
<circle cx="162.1" cy="394.3" r="0.36" fill="#3a3a3a"/>
<circle cx="181.3" cy="415.1" r="0.65" fill="#3a3a3a"/>
<circle cx="204.9" cy="412.1" r="0.54" fill="#3a3a3a"/>
<circle cx="168.5" cy="410.0" r="0.48" fill="#3a3a3a"/>
<circle cx="161.4" cy="399.7" r="0.70" fill="#3a3a3a"/>
<circle cx="162.9" cy="406.3" r="0.51" fill="#3a3a3a"/>
<circle cx="185.0" cy="385.0" r="0.73" fill="#3a3a3a"/>
<circle cx="170.4" cy="407.3" r="0.52" fill="#3a3a3a"/>
<circle cx="168.9" cy="399.5" r="0.45" fill="#3a3a3a"/>
<circle cx="189.4" cy="408.2" r="0.67" fill="#3a3a3a"/>
<circle cx="196.2" cy="390.4" r="0.52" fill="#3a3a3a"/>
<circle cx="166.0" cy="389.2" r="0.44" fill="#3a3a3a"/>
<circle cx="185.4" cy="400.5" r="0.47" fill="#3a3a3a"/>
<circle cx="192.3" cy="388.3" r="0.71" fill="#3a3a3a"/>
<circle cx="180.4" cy="402.8" r="0.58" fill="#3a3a3a"/>
<circle cx="185.6" cy="386.8" r="0.39" fill="#3a3a3a"/>
<circle cx="201.5" cy="395.7" r="0.56" fill="#3a3a3a"/>
<circle cx="173.1" cy="418.7" r="0.62" fill="#3a3a3a"/>
<circle cx="179.1" cy="401.5" r="0.43" fill="#3a3a3a"/>
<circle cx="171.9" cy="396.0" r="0.72" fill="#3a3a3a"/>
<circle cx="166.6" cy="405.7" r="0.51" fill="#3a3a3a"/>
<circle cx="182.1" cy="414.5" r="0.51" fill="#3a3a3a"/>
<circle cx="193.3" cy="415.6" r="0.64" fill="#3a3a3a"/>
<circle cx="184.1" cy="395.3" r="0.53" fill="#3a3a3a"/>
<circle cx="201.3" cy="391.0" r="0.56" fill="#3a3a3a"/>
<circle cx="203.4" cy="392.4" r="0.44" fill="#3a3a3a"/>
<circle cx="183.6" cy="390.6" r="0.52" fill="#3a3a3a"/>
<circle cx="189.1" cy="417.6" r="0.39" fill="#3a3a3a"/>
<circle cx="164.0" cy="398.2" r="0.38" fill="#3a3a3a"/>
<circle cx="163.0" cy="392.3" r="0.44" fill="#3a3a3a"/>
<circle cx="194.0" cy="411.0" r="0.53" fill="#3a3a3a"/>
<circle cx="185.6" cy="383.4" r="0.57" fill="#3a3a3a"/>
<circle cx="161.1" cy="403.0" r="0.64" fill="#3a3a3a"/>
<circle cx="182.0" cy="412.0" r="0.51" fill="#3a3a3a"/>
<circle cx="188.4" cy="385.0" r="0.53" fill="#3a3a3a"/>
<circle cx="184.8" cy="401.4" r="0.51" fill="#3a3a3a"/>
<circle cx="195.9" cy="400.9" r="0.73" fill="#3a3a3a"/>
<circle cx="174.5" cy="414.1" r="0.61" fill="#3a3a3a"/>
<circle cx="168.5" cy="408.1" r="0.51" fill="#3a3a3a"/>
<circle cx="182.2" cy="412.4" r="0.70" fill="#3a3a3a"/>
<circle cx="192.8" cy="417.5" r="0.36" fill="#3a3a3a"/>
<circle cx="190.3" cy="421.8" r="0.70" fill="#3a3a3a"/>
<circle cx="199.5" cy="387.7" r="0.65" fill="#3a3a3a"/>
<circle cx="189.1" cy="387.3" r="0.67" fill="#3a3a3a"/>
<circle cx="163.5" cy="407.6" r="0.52" fill="#3a3a3a"/>
<circle cx="170.1" cy="405.4" r="0.54" fill="#3a3a3a"/>
<circle cx="183.4" cy="418.5" r="0.61" fill="#3a3a3a"/>
<circle cx="198.8" cy="401.5" r="0.62" fill="#3a3a3a"/>
<circle cx="174.8" cy="390.9" r="0.55" fill="#3a3a3a"/>
<circle cx="198.7" cy="386.4" r="0.65" fill="#3a3a3a"/>
<circle cx="200.5" cy="397.6" r="0.62" fill="#3a3a3a"/>
<circle cx="177.4" cy="400.5" r="0.47" fill="#3a3a3a"/>
<circle cx="186.4" cy="396.5" r="0.53" fill="#3a3a3a"/>
<circle cx="205.4" cy="392.9" r="0.61" fill="#3a3a3a"/>
<circle cx="183.3" cy="404.1" r="0.72" fill="#3a3a3a"/>
<circle cx="173.0" cy="409.3" r="0.67" fill="#3a3a3a"/>
<circle cx="193.0" cy="397.0" r="0.69" fill="#3a3a3a"/>
<circle cx="178.0" cy="403.7" r="0.69" fill="#3a3a3a"/>
<circle cx="201.2" cy="408.4" r="0.47" fill="#3a3a3a"/>
<circle cx="168.9" cy="400.1" r="0.44" fill="#3a3a3a"/>
<circle cx="177.3" cy="395.6" r="0.48" fill="#3a3a3a"/>
<circle cx="165.1" cy="399.4" r="0.47" fill="#3a3a3a"/>
<circle cx="180.9" cy="409.0" r="0.72" fill="#3a3a3a"/>
<circle cx="169.2" cy="387.2" r="0.62" fill="#3a3a3a"/>
<circle cx="177.0" cy="395.2" r="0.67" fill="#3a3a3a"/>
<circle cx="168.9" cy="417.1" r="0.60" fill="#3a3a3a"/>
<circle cx="178.5" cy="417.9" r="0.49" fill="#3a3a3a"/>
<circle cx="184.3" cy="411.4" r="0.73" fill="#3a3a3a"/>
<circle cx="198.1" cy="414.3" r="0.70" fill="#3a3a3a"/>
<circle cx="191.2" cy="410.5" r="0.50" fill="#3a3a3a"/>
<circle cx="178.2" cy="386.5" r="0.73" fill="#3a3a3a"/>
<circle cx="175.8" cy="401.1" r="0.71" fill="#3a3a3a"/>
<ellipse cx="244.5" cy="402.2" rx="29.3" ry="24.2" fill="url(#dl2)" stroke="#6a6a6a" stroke-width="1.5"/>
<ellipse cx="244.5" cy="402.2" rx="27.3" ry="22.2" fill="none" stroke="#b0b0b0" stroke-width="1.4"/>
<path d="M215.7,406.2 A28.8,23.7 0 0 0 250.5,425.79999999999995" fill="none" stroke="#555" stroke-width="1.6"/>
<circle cx="235.8" cy="395.4" r="0.72" fill="#3a3a3a"/>
<circle cx="240.8" cy="404.3" r="0.44" fill="#3a3a3a"/>
<circle cx="264.0" cy="396.9" r="0.46" fill="#3a3a3a"/>
<circle cx="252.6" cy="385.3" r="0.48" fill="#3a3a3a"/>
<circle cx="229.9" cy="398.3" r="0.45" fill="#3a3a3a"/>
<circle cx="235.3" cy="389.9" r="0.45" fill="#3a3a3a"/>
<circle cx="251.0" cy="394.3" r="0.50" fill="#3a3a3a"/>
<circle cx="240.4" cy="415.7" r="0.40" fill="#3a3a3a"/>
<circle cx="245.8" cy="418.9" r="0.49" fill="#3a3a3a"/>
<circle cx="260.2" cy="407.5" r="0.51" fill="#3a3a3a"/>
<circle cx="243.0" cy="408.0" r="0.48" fill="#3a3a3a"/>
<circle cx="264.3" cy="406.9" r="0.59" fill="#3a3a3a"/>
<circle cx="241.8" cy="397.9" r="0.56" fill="#3a3a3a"/>
<circle cx="233.1" cy="416.6" r="0.35" fill="#3a3a3a"/>
<circle cx="221.4" cy="395.0" r="0.42" fill="#3a3a3a"/>
<circle cx="223.8" cy="410.4" r="0.39" fill="#3a3a3a"/>
<circle cx="229.4" cy="401.3" r="0.57" fill="#3a3a3a"/>
<circle cx="223.3" cy="402.3" r="0.37" fill="#3a3a3a"/>
<circle cx="263.4" cy="403.3" r="0.62" fill="#3a3a3a"/>
<circle cx="244.0" cy="384.4" r="0.40" fill="#3a3a3a"/>
<circle cx="237.4" cy="408.1" r="0.69" fill="#3a3a3a"/>
<circle cx="244.9" cy="422.4" r="0.42" fill="#3a3a3a"/>
<circle cx="251.9" cy="388.2" r="0.50" fill="#3a3a3a"/>
<circle cx="232.6" cy="398.9" r="0.52" fill="#3a3a3a"/>
<circle cx="238.5" cy="416.6" r="0.67" fill="#3a3a3a"/>
<circle cx="248.2" cy="400.9" r="0.46" fill="#3a3a3a"/>
<circle cx="228.6" cy="412.0" r="0.63" fill="#3a3a3a"/>
<circle cx="247.5" cy="387.8" r="0.43" fill="#3a3a3a"/>
<circle cx="249.2" cy="409.2" r="0.60" fill="#3a3a3a"/>
<circle cx="258.7" cy="412.0" r="0.54" fill="#3a3a3a"/>
<circle cx="252.5" cy="404.3" r="0.42" fill="#3a3a3a"/>
<circle cx="267.9" cy="400.5" r="0.47" fill="#3a3a3a"/>
<circle cx="256.3" cy="391.4" r="0.71" fill="#3a3a3a"/>
<circle cx="248.5" cy="398.0" r="0.52" fill="#3a3a3a"/>
<circle cx="257.4" cy="400.0" r="0.61" fill="#3a3a3a"/>
<circle cx="227.8" cy="394.1" r="0.57" fill="#3a3a3a"/>
<circle cx="238.2" cy="403.4" r="0.72" fill="#3a3a3a"/>
<circle cx="227.0" cy="415.4" r="0.63" fill="#3a3a3a"/>
<circle cx="261.3" cy="399.7" r="0.53" fill="#3a3a3a"/>
<circle cx="235.5" cy="400.9" r="0.45" fill="#3a3a3a"/>
<circle cx="226.4" cy="401.0" r="0.43" fill="#3a3a3a"/>
<circle cx="242.7" cy="405.7" r="0.47" fill="#3a3a3a"/>
<circle cx="225.2" cy="407.3" r="0.69" fill="#3a3a3a"/>
<circle cx="228.2" cy="407.8" r="0.61" fill="#3a3a3a"/>
<circle cx="233.2" cy="388.0" r="0.68" fill="#3a3a3a"/>
<circle cx="233.5" cy="393.4" r="0.45" fill="#3a3a3a"/>
<circle cx="257.6" cy="394.6" r="0.53" fill="#3a3a3a"/>
<circle cx="239.8" cy="418.3" r="0.36" fill="#3a3a3a"/>
<circle cx="249.2" cy="384.4" r="0.41" fill="#3a3a3a"/>
<circle cx="250.8" cy="396.2" r="0.38" fill="#3a3a3a"/>
<circle cx="249.7" cy="422.3" r="0.61" fill="#3a3a3a"/>
<circle cx="244.2" cy="416.8" r="0.72" fill="#3a3a3a"/>
<circle cx="224.1" cy="392.5" r="0.74" fill="#3a3a3a"/>
<circle cx="249.9" cy="412.0" r="0.56" fill="#3a3a3a"/>
<circle cx="229.0" cy="388.3" r="0.37" fill="#3a3a3a"/>
<circle cx="254.2" cy="384.7" r="0.60" fill="#3a3a3a"/>
<circle cx="238.1" cy="399.1" r="0.74" fill="#3a3a3a"/>
<circle cx="238.2" cy="401.0" r="0.50" fill="#3a3a3a"/>
<circle cx="227.8" cy="388.8" r="0.56" fill="#3a3a3a"/>
<circle cx="238.7" cy="402.9" r="0.39" fill="#3a3a3a"/>
<line x1="67.9" y1="438.5" x2="67.9" y2="533.8" stroke="#111" stroke-width="1.3" />
<line x1="65.30000000000001" y1="438.8" x2="67.9" y2="438.8" stroke="#111" stroke-width="1.3" />
<text x="60.70" y="441.7" font-size="8.6" text-anchor="end" letter-spacing="0.5" fill="#111" stroke="#111" stroke-width="0.34" >500</text>
<line x1="65.30000000000001" y1="457.8" x2="67.9" y2="457.8" stroke="#111" stroke-width="1.3" />
<text x="60.70" y="460.7" font-size="8.6" text-anchor="end" letter-spacing="0.5" fill="#111" stroke="#111" stroke-width="0.34" >400</text>
<line x1="65.30000000000001" y1="476.8" x2="67.9" y2="476.8" stroke="#111" stroke-width="1.3" />
<text x="60.70" y="479.7" font-size="8.6" text-anchor="end" letter-spacing="0.5" fill="#111" stroke="#111" stroke-width="0.34" >300</text>
<line x1="65.30000000000001" y1="495.8" x2="67.9" y2="495.8" stroke="#111" stroke-width="1.3" />
<text x="60.70" y="498.7" font-size="8.6" text-anchor="end" letter-spacing="0.5" fill="#111" stroke="#111" stroke-width="0.34" >200</text>
<line x1="65.30000000000001" y1="514.8" x2="67.9" y2="514.8" stroke="#111" stroke-width="1.3" />
<text x="60.70" y="517.6999999999999" font-size="8.6" text-anchor="end" letter-spacing="0.5" fill="#111" stroke="#111" stroke-width="0.34" >100</text>
<line x1="65.30000000000001" y1="533.8" x2="67.9" y2="533.8" stroke="#111" stroke-width="1.3" />
<text x="60.70" y="536.6999999999999" font-size="8.6" text-anchor="end" letter-spacing="0.5" fill="#111" stroke="#111" stroke-width="0.34" >0</text>
<line x1="67.9" y1="533.8" x2="132.1" y2="533.8" stroke="#111" stroke-width="1.3" />
<line x1="83.5" y1="533.8" x2="83.5" y2="536.4" stroke="#111" stroke-width="1.3" />
<line x1="115.9" y1="533.8" x2="115.9" y2="536.4" stroke="#111" stroke-width="1.3" />
<line x1="83.5" y1="482.1" x2="83.5" y2="480.6" stroke="#111" stroke-width="1.3" />
<line x1="80.5" y1="480.6" x2="86.5" y2="480.6" stroke="#111" stroke-width="1.3" />
<rect x="75.85" y="482.85" width="15.30" height="50.80" fill="#fff" stroke="#111" stroke-width="1.5"/>
<line x1="116.0" y1="459.6" x2="116.0" y2="458.6" stroke="#111" stroke-width="1.3" />
<line x1="113.0" y1="458.6" x2="119.0" y2="458.6" stroke="#111" stroke-width="1.3" />
<rect x="107.0" y="459.0" width="18.00000000000001" height="74.79999999999993" fill="#111"/>
<line x1="81.2" y1="452.4" x2="116.75" y2="452.4" stroke="#555" stroke-width="1.4" />
<polygon points="95.95,441.95 96.58,443.23 97.99,443.44 96.97,444.43 97.21,445.84 95.95,445.18 94.69,445.84 94.93,444.43 93.91,443.44 95.32,443.23" fill="#222"/>
<polygon points="102.25,441.95 102.88,443.23 104.29,443.44 103.27,444.43 103.51,445.84 102.25,445.18 100.99,445.84 101.23,444.43 100.21,443.44 101.62,443.23" fill="#222"/>
<text x="38.20" y="485.8" font-size="8.6" text-anchor="middle" textLength="74.3" lengthAdjust="spacing" transform="rotate(-90 38.2 485.8)" fill="#111" stroke="#111" stroke-width="0.34" >Number of clones</text>
<text x="85.05" y="545.6" font-size="8.7" text-anchor="end" letter-spacing="0.35" transform="rotate(-45 84.7 545.6)" fill="#111" stroke="#111" stroke-width="0.35" >pWPXL</text>
<text x="117.45" y="545.6" font-size="8.7" text-anchor="end" letter-spacing="0.35" transform="rotate(-45 117.10000000000001 545.6)" fill="#111" stroke="#111" stroke-width="0.35" >LINC00152</text>
<line x1="192.45" y1="437.5" x2="192.45" y2="534.5" stroke="#111" stroke-width="1.3" />
<line x1="189.85" y1="437.5" x2="192.45" y2="437.5" stroke="#111" stroke-width="1.3" />
<text x="185.70" y="440.4" font-size="8.6" text-anchor="end" letter-spacing="0.5" fill="#111" stroke="#111" stroke-width="0.34" >80</text>
<line x1="189.85" y1="461.75" x2="192.45" y2="461.75" stroke="#111" stroke-width="1.3" />
<text x="185.70" y="464.65" font-size="8.6" text-anchor="end" letter-spacing="0.5" fill="#111" stroke="#111" stroke-width="0.34" >60</text>
<line x1="189.85" y1="486.0" x2="192.45" y2="486.0" stroke="#111" stroke-width="1.3" />
<text x="185.70" y="488.9" font-size="8.6" text-anchor="end" letter-spacing="0.5" fill="#111" stroke="#111" stroke-width="0.34" >40</text>
<line x1="189.85" y1="510.25" x2="192.45" y2="510.25" stroke="#111" stroke-width="1.3" />
<text x="185.70" y="513.15" font-size="8.6" text-anchor="end" letter-spacing="0.5" fill="#111" stroke="#111" stroke-width="0.34" >20</text>
<line x1="189.85" y1="534.5" x2="192.45" y2="534.5" stroke="#111" stroke-width="1.3" />
<text x="185.70" y="537.4" font-size="8.6" text-anchor="end" letter-spacing="0.5" fill="#111" stroke="#111" stroke-width="0.34" >0</text>
<line x1="192.45" y1="534.5" x2="256.8" y2="534.5" stroke="#111" stroke-width="1.3" />
<line x1="208.2" y1="534.5" x2="208.2" y2="537.1" stroke="#111" stroke-width="1.3" />
<line x1="240.5" y1="534.5" x2="240.5" y2="537.1" stroke="#111" stroke-width="1.3" />
<line x1="208.2" y1="461.8" x2="208.2" y2="454.3" stroke="#111" stroke-width="1.3" />
<line x1="205.2" y1="454.3" x2="211.2" y2="454.3" stroke="#111" stroke-width="1.3" />
<rect x="200.85" y="462.55" width="14.70" height="71.80" fill="#fff" stroke="#111" stroke-width="1.5"/>
<line x1="240.45" y1="493.0" x2="240.45" y2="489.5" stroke="#111" stroke-width="1.3" />
<line x1="237.45" y1="489.5" x2="243.45" y2="489.5" stroke="#111" stroke-width="1.3" />
<rect x="231.5" y="492.4" width="17.900000000000016" height="42.1" fill="#111"/>
<line x1="208" y1="447.8" x2="242" y2="447.8" stroke="#555" stroke-width="1.4" />
<polygon points="221.05,439.95 221.68,441.23 223.09,441.44 222.07,442.43 222.31,443.84 221.05,443.18 219.79,443.84 220.03,442.43 219.01,441.44 220.42,441.23" fill="#222"/>
<polygon points="227.35,439.95 227.98,441.23 229.39,441.44 228.37,442.43 228.61,443.84 227.35,443.18 226.09,443.84 226.33,442.43 225.31,441.44 226.72,441.23" fill="#222"/>
<text x="167.70" y="485.8" font-size="8.6" text-anchor="middle" textLength="74.3" lengthAdjust="spacing" transform="rotate(-90 167.7 485.8)" fill="#111" stroke="#111" stroke-width="0.34" >Number of clones</text>
<text x="209.75" y="545.6" font-size="8.7" text-anchor="end" letter-spacing="0.35" transform="rotate(-45 209.39999999999998 545.6)" fill="#111" stroke="#111" stroke-width="0.35" >Si-NC</text>
<text x="242.05" y="545.6" font-size="8.7" text-anchor="end" letter-spacing="0.35" transform="rotate(-45 241.7 545.6)" fill="#111" stroke="#111" stroke-width="0.35" >Si-LINC00152</text>
<text x="331.10" y="361.3" font-size="19" font-weight="bold" text-anchor="start" letter-spacing="0.35" fill="#111" stroke="#111" stroke-width="0.12" >f</text>
<text x="460.40" y="356.3" font-size="9.7" font-weight="bold" text-anchor="middle" textLength="33.5" lengthAdjust="spacingAndGlyphs" fill="#111" stroke="#111" stroke-width="0.3" >HCT116</text>
<text x="611.10" y="356.3" font-size="9.7" font-weight="bold" text-anchor="middle" textLength="22.0" lengthAdjust="spacingAndGlyphs" fill="#111" stroke="#111" stroke-width="0.3" >HT29</text>
<text x="386.80" y="373.5" font-size="8.8" font-weight="bold" text-anchor="end" textLength="31.8" lengthAdjust="spacing" fill="#111" stroke="#111" stroke-width="0.12" >pWPXL</text>
<text x="386.80" y="397.1" font-size="8.8" font-weight="bold" text-anchor="end" textLength="46.3" lengthAdjust="spacing" fill="#111" stroke="#111" stroke-width="0.12" >LINC00152</text>
<rect x="388.3" y="359.2" width="141.2" height="54.5" fill="#eceeee" stroke="#444" stroke-width="1"/>
<rect x="392.8" y="400.4" width="135.6" height="3.4" fill="url(#rg1)"/>
<rect x="392.8" y="403.8" width="135.6" height="8.6" fill="#e2e4e2"/>
<line x1="393.5" y1="403.8" x2="393.5" y2="406.2" stroke="#666" stroke-width="0.5" />
<text x="393.50" y="409.6" font-size="3.0" text-anchor="middle" letter-spacing="0" fill="#555" >0</text>
<line x1="404.5" y1="403.8" x2="404.5" y2="406.2" stroke="#666" stroke-width="0.5" />
<text x="404.50" y="409.6" font-size="3.0" text-anchor="middle" letter-spacing="0" fill="#555" >1cm</text>
<line x1="412.6" y1="403.8" x2="412.6" y2="406.2" stroke="#666" stroke-width="0.5" />
<text x="412.60" y="409.6" font-size="3.0" text-anchor="middle" letter-spacing="0" fill="#555" >2</text>
<line x1="421.85" y1="403.8" x2="421.85" y2="406.2" stroke="#666" stroke-width="0.5" />
<text x="421.85" y="409.6" font-size="3.0" text-anchor="middle" letter-spacing="0" fill="#555" >3</text>
<line x1="431.1" y1="403.8" x2="431.1" y2="406.2" stroke="#666" stroke-width="0.5" />
<text x="431.10" y="409.6" font-size="3.0" text-anchor="middle" letter-spacing="0" fill="#555" >4</text>
<line x1="440.35" y1="403.8" x2="440.35" y2="406.2" stroke="#666" stroke-width="0.5" />
<text x="440.35" y="409.6" font-size="3.0" text-anchor="middle" letter-spacing="0" fill="#555" >5</text>
<line x1="449.6" y1="403.8" x2="449.6" y2="406.2" stroke="#666" stroke-width="0.5" />
<text x="449.60" y="409.6" font-size="3.0" text-anchor="middle" letter-spacing="0" fill="#555" >6</text>
<line x1="458.85" y1="403.8" x2="458.85" y2="406.2" stroke="#666" stroke-width="0.5" />
<text x="458.85" y="409.6" font-size="3.0" text-anchor="middle" letter-spacing="0" fill="#555" >7</text>
<line x1="468.1" y1="403.8" x2="468.1" y2="406.2" stroke="#666" stroke-width="0.5" />
<text x="468.10" y="409.6" font-size="3.0" text-anchor="middle" letter-spacing="0" fill="#555" >8</text>
<line x1="477.35" y1="403.8" x2="477.35" y2="406.2" stroke="#666" stroke-width="0.5" />
<text x="477.35" y="409.6" font-size="3.0" text-anchor="middle" letter-spacing="0" fill="#555" >9</text>
<line x1="486.6" y1="403.8" x2="486.6" y2="406.2" stroke="#666" stroke-width="0.5" />
<text x="486.60" y="409.6" font-size="3.0" text-anchor="middle" letter-spacing="0" fill="#555" >10</text>
<line x1="495.85" y1="403.8" x2="495.85" y2="406.2" stroke="#666" stroke-width="0.5" />
<text x="495.85" y="409.6" font-size="3.0" text-anchor="middle" letter-spacing="0" fill="#555" >11</text>
<line x1="505.1" y1="403.8" x2="505.1" y2="406.2" stroke="#666" stroke-width="0.5" />
<text x="505.10" y="409.6" font-size="3.0" text-anchor="middle" letter-spacing="0" fill="#555" >12</text>
<line x1="514.35" y1="403.8" x2="514.35" y2="406.2" stroke="#666" stroke-width="0.5" />
<text x="514.35" y="409.6" font-size="3.0" text-anchor="middle" letter-spacing="0" fill="#555" >13</text>
<line x1="523.6" y1="403.8" x2="523.6" y2="406.2" stroke="#666" stroke-width="0.5" />
<text x="523.60" y="409.6" font-size="3.0" text-anchor="middle" letter-spacing="0" fill="#555" >14</text>
<path d="M409.1,368.0 L407.6,370.6 L405.2,372.9 L401.5,372.7 L398.3,371.0 L396.9,368.0 L398.5,365.1 L401.4,363.2 L405.0,363.5 L407.8,365.3Z" fill="url(#tg1)" stroke="url(#tg1)" stroke-width="0.8" stroke-linejoin="round"/>
<path d="M430.2,368.0 L429.3,370.2 L427.3,371.6 L424.8,371.7 L422.9,370.3 L422.4,368.0 L423.2,366.0 L425.0,364.8 L427.4,364.1 L429.1,365.9Z" fill="url(#tg1)" stroke="url(#tg1)" stroke-width="0.8" stroke-linejoin="round"/>
<path d="M454.0,369.9 L452.4,372.2 L450.7,374.5 L448.0,373.7 L445.7,372.4 L445.0,369.9 L445.6,367.3 L448.0,366.1 L450.4,366.2 L452.7,367.4Z" fill="url(#tg1)" stroke="url(#tg1)" stroke-width="0.8" stroke-linejoin="round"/>
<path d="M474.7,369.9 L474.7,372.1 L471.9,373.1 L468.9,373.1 L466.5,371.9 L465.3,369.9 L466.3,367.8 L469.0,366.9 L471.9,366.8 L474.3,367.9Z" fill="url(#tg1)" stroke="url(#tg1)" stroke-width="0.8" stroke-linejoin="round"/>
<path d="M493.4,368.8 L492.2,370.8 L490.6,372.6 L488.3,372.3 L486.5,370.9 L485.2,368.8 L486.1,366.4 L488.2,365.1 L490.5,365.3 L492.2,366.7Z" fill="url(#tg1)" stroke="url(#tg1)" stroke-width="0.8" stroke-linejoin="round"/>
<path d="M514.3,369.2 L513.4,371.3 L511.5,372.3 L509.4,372.6 L507.7,371.2 L507.3,369.2 L507.8,367.2 L509.4,365.8 L511.6,365.7 L513.3,367.1Z" fill="url(#tg1)" stroke="url(#tg1)" stroke-width="0.8" stroke-linejoin="round"/>
<path d="M406.6,388.3 L405.2,391.2 L403.0,393.6 L399.6,393.5 L396.8,391.6 L395.4,388.3 L396.9,385.1 L399.6,383.0 L402.9,383.4 L405.4,385.3Z" fill="url(#tg1)" stroke="url(#tg1)" stroke-width="0.8" stroke-linejoin="round"/>
<path d="M432.6,386.7 L431.8,389.8 L428.6,391.1 L425.2,391.2 L422.4,389.5 L420.3,386.7 L422.1,383.7 L425.2,382.2 L428.9,381.4 L431.5,383.8Z" fill="url(#tg1)" stroke="url(#tg1)" stroke-width="0.8" stroke-linejoin="round"/>
<path d="M456.7,386.7 L455.9,389.9 L452.3,390.8 L448.9,391.2 L445.5,389.8 L444.2,386.7 L445.6,383.6 L449.1,382.6 L452.7,381.7 L454.8,384.2Z" fill="url(#tg1)" stroke="url(#tg1)" stroke-width="0.8" stroke-linejoin="round"/>
<path d="M477.2,387.8 L476.0,390.5 L473.4,392.0 L470.3,392.3 L467.4,390.8 L466.9,387.8 L467.2,384.7 L470.3,383.3 L473.7,382.7 L475.8,385.2Z" fill="url(#tg1)" stroke="url(#tg1)" stroke-width="0.8" stroke-linejoin="round"/>
<path d="M495.8,387.8 L494.9,390.2 L492.8,391.4 L490.3,391.7 L487.9,390.5 L487.1,387.8 L487.7,385.0 L490.2,383.6 L492.9,383.8 L494.7,385.5Z" fill="url(#tg1)" stroke="url(#tg1)" stroke-width="0.8" stroke-linejoin="round"/>
<path d="M516.7,388.9 L516.1,391.3 L513.8,392.6 L511.0,392.7 L508.5,391.4 L508.4,388.9 L508.7,386.5 L511.2,385.6 L513.8,385.0 L516.2,386.5Z" fill="url(#tg1)" stroke="url(#tg1)" stroke-width="0.8" stroke-linejoin="round"/>
<rect x="536" y="360" width="145.2" height="53.3" fill="#f7f7f7" stroke="#444" stroke-width="1"/>
<rect x="536.6" y="398" width="143" height="5" fill="#c4c4c4"/>
<rect x="536.6" y="403" width="143" height="9.8" fill="#d8dad8"/>
<line x1="537.2" y1="398.3" x2="538.1" y2="400.3" stroke="#808080" stroke-width="0.45" />
<line x1="539.1800000000001" y1="398.3" x2="540.08" y2="401.5" stroke="#808080" stroke-width="0.45" />
<line x1="541.1600000000001" y1="398.3" x2="542.0600000000001" y2="400.3" stroke="#808080" stroke-width="0.45" />
<line x1="543.1400000000001" y1="398.3" x2="544.0400000000001" y2="401.5" stroke="#808080" stroke-width="0.45" />
<line x1="545.12" y1="398.3" x2="546.02" y2="400.3" stroke="#808080" stroke-width="0.45" />
<line x1="547.1" y1="398.3" x2="548.0" y2="401.5" stroke="#808080" stroke-width="0.45" />
<line x1="549.08" y1="398.3" x2="549.98" y2="400.3" stroke="#808080" stroke-width="0.45" />
<line x1="551.0600000000001" y1="398.3" x2="551.96" y2="401.5" stroke="#808080" stroke-width="0.45" />
<line x1="553.0400000000001" y1="398.3" x2="553.94" y2="400.3" stroke="#808080" stroke-width="0.45" />
<line x1="555.0200000000001" y1="398.3" x2="555.9200000000001" y2="401.5" stroke="#808080" stroke-width="0.45" />
<line x1="557.0" y1="398.3" x2="557.9" y2="400.3" stroke="#808080" stroke-width="0.45" />
<line x1="558.98" y1="398.3" x2="559.88" y2="401.5" stroke="#808080" stroke-width="0.45" />
<line x1="560.96" y1="398.3" x2="561.86" y2="400.3" stroke="#808080" stroke-width="0.45" />
<line x1="562.94" y1="398.3" x2="563.84" y2="401.5" stroke="#808080" stroke-width="0.45" />
<line x1="564.9200000000001" y1="398.3" x2="565.82" y2="400.3" stroke="#808080" stroke-width="0.45" />
<line x1="566.9000000000001" y1="398.3" x2="567.8000000000001" y2="401.5" stroke="#808080" stroke-width="0.45" />
<line x1="568.88" y1="398.3" x2="569.78" y2="400.3" stroke="#808080" stroke-width="0.45" />
<line x1="570.86" y1="398.3" x2="571.76" y2="401.5" stroke="#808080" stroke-width="0.45" />
<line x1="572.84" y1="398.3" x2="573.74" y2="400.3" stroke="#808080" stroke-width="0.45" />
<line x1="574.82" y1="398.3" x2="575.72" y2="401.5" stroke="#808080" stroke-width="0.45" />
<line x1="576.8000000000001" y1="398.3" x2="577.7" y2="400.3" stroke="#808080" stroke-width="0.45" />
<line x1="578.7800000000001" y1="398.3" x2="579.6800000000001" y2="401.5" stroke="#808080" stroke-width="0.45" />
<line x1="580.76" y1="398.3" x2="581.66" y2="400.3" stroke="#808080" stroke-width="0.45" />
<line x1="582.74" y1="398.3" x2="583.64" y2="401.5" stroke="#808080" stroke-width="0.45" />
<line x1="584.72" y1="398.3" x2="585.62" y2="400.3" stroke="#808080" stroke-width="0.45" />
<line x1="586.7" y1="398.3" x2="587.6" y2="401.5" stroke="#808080" stroke-width="0.45" />
<line x1="588.6800000000001" y1="398.3" x2="589.58" y2="400.3" stroke="#808080" stroke-width="0.45" />
<line x1="590.6600000000001" y1="398.3" x2="591.5600000000001" y2="401.5" stroke="#808080" stroke-width="0.45" />
<line x1="592.6400000000001" y1="398.3" x2="593.5400000000001" y2="400.3" stroke="#808080" stroke-width="0.45" />
<line x1="594.62" y1="398.3" x2="595.52" y2="401.5" stroke="#808080" stroke-width="0.45" />
<line x1="596.6" y1="398.3" x2="597.5" y2="400.3" stroke="#808080" stroke-width="0.45" />
<line x1="598.58" y1="398.3" x2="599.48" y2="401.5" stroke="#808080" stroke-width="0.45" />
<line x1="600.5600000000001" y1="398.3" x2="601.46" y2="400.3" stroke="#808080" stroke-width="0.45" />
<line x1="602.5400000000001" y1="398.3" x2="603.44" y2="401.5" stroke="#808080" stroke-width="0.45" />
<line x1="604.52" y1="398.3" x2="605.42" y2="400.3" stroke="#808080" stroke-width="0.45" />
<line x1="606.5" y1="398.3" x2="607.4" y2="401.5" stroke="#808080" stroke-width="0.45" />
<line x1="608.48" y1="398.3" x2="609.38" y2="400.3" stroke="#808080" stroke-width="0.45" />
<line x1="610.46" y1="398.3" x2="611.36" y2="401.5" stroke="#808080" stroke-width="0.45" />
<line x1="612.44" y1="398.3" x2="613.34" y2="400.3" stroke="#808080" stroke-width="0.45" />
<line x1="614.4200000000001" y1="398.3" x2="615.32" y2="401.5" stroke="#808080" stroke-width="0.45" />
<line x1="616.4000000000001" y1="398.3" x2="617.3000000000001" y2="400.3" stroke="#808080" stroke-width="0.45" />
<line x1="618.38" y1="398.3" x2="619.28" y2="401.5" stroke="#808080" stroke-width="0.45" />
<line x1="620.36" y1="398.3" x2="621.26" y2="400.3" stroke="#808080" stroke-width="0.45" />
<line x1="622.34" y1="398.3" x2="623.24" y2="401.5" stroke="#808080" stroke-width="0.45" />
<line x1="624.32" y1="398.3" x2="625.22" y2="400.3" stroke="#808080" stroke-width="0.45" />
<line x1="626.3000000000001" y1="398.3" x2="627.2" y2="401.5" stroke="#808080" stroke-width="0.45" />
<line x1="628.2800000000001" y1="398.3" x2="629.1800000000001" y2="400.3" stroke="#808080" stroke-width="0.45" />
<line x1="630.26" y1="398.3" x2="631.16" y2="401.5" stroke="#808080" stroke-width="0.45" />
<line x1="632.24" y1="398.3" x2="633.14" y2="400.3" stroke="#808080" stroke-width="0.45" />
<line x1="634.22" y1="398.3" x2="635.12" y2="401.5" stroke="#808080" stroke-width="0.45" />
<line x1="636.2" y1="398.3" x2="637.1" y2="400.3" stroke="#808080" stroke-width="0.45" />
<line x1="638.1800000000001" y1="398.3" x2="639.08" y2="401.5" stroke="#808080" stroke-width="0.45" />
<line x1="640.1600000000001" y1="398.3" x2="641.0600000000001" y2="400.3" stroke="#808080" stroke-width="0.45" />
<line x1="642.1400000000001" y1="398.3" x2="643.0400000000001" y2="401.5" stroke="#808080" stroke-width="0.45" />
<line x1="644.12" y1="398.3" x2="645.02" y2="400.3" stroke="#808080" stroke-width="0.45" />
<line x1="646.1" y1="398.3" x2="647.0" y2="401.5" stroke="#808080" stroke-width="0.45" />
<line x1="648.08" y1="398.3" x2="648.98" y2="400.3" stroke="#808080" stroke-width="0.45" />
<line x1="650.0600000000001" y1="398.3" x2="650.96" y2="401.5" stroke="#808080" stroke-width="0.45" />
<line x1="652.0400000000001" y1="398.3" x2="652.94" y2="400.3" stroke="#808080" stroke-width="0.45" />
<line x1="654.02" y1="398.3" x2="654.92" y2="401.5" stroke="#808080" stroke-width="0.45" />
<line x1="656.0" y1="398.3" x2="656.9" y2="400.3" stroke="#808080" stroke-width="0.45" />
<line x1="657.98" y1="398.3" x2="658.88" y2="401.5" stroke="#808080" stroke-width="0.45" />
<line x1="659.96" y1="398.3" x2="660.86" y2="400.3" stroke="#808080" stroke-width="0.45" />
<line x1="661.94" y1="398.3" x2="662.84" y2="401.5" stroke="#808080" stroke-width="0.45" />
<line x1="663.9200000000001" y1="398.3" x2="664.82" y2="400.3" stroke="#808080" stroke-width="0.45" />
<line x1="665.9000000000001" y1="398.3" x2="666.8000000000001" y2="401.5" stroke="#808080" stroke-width="0.45" />
<line x1="667.8800000000001" y1="398.3" x2="668.7800000000001" y2="400.3" stroke="#808080" stroke-width="0.45" />
<line x1="669.86" y1="398.3" x2="670.76" y2="401.5" stroke="#808080" stroke-width="0.45" />
<line x1="671.84" y1="398.3" x2="672.74" y2="400.3" stroke="#808080" stroke-width="0.45" />
<line x1="673.82" y1="398.3" x2="674.72" y2="401.5" stroke="#808080" stroke-width="0.45" />
<line x1="675.8000000000001" y1="398.3" x2="676.7" y2="400.3" stroke="#808080" stroke-width="0.45" />
<line x1="677.7800000000001" y1="398.3" x2="678.6800000000001" y2="401.5" stroke="#808080" stroke-width="0.45" />
<line x1="548.0" y1="398.2" x2="548.0" y2="405.2" stroke="#777" stroke-width="0.5" />
<line x1="560.6" y1="398.2" x2="560.6" y2="405.2" stroke="#777" stroke-width="0.5" />
<line x1="573.2" y1="398.2" x2="573.2" y2="405.2" stroke="#777" stroke-width="0.5" />
<line x1="585.8" y1="398.2" x2="585.8" y2="405.2" stroke="#777" stroke-width="0.5" />
<line x1="598.4" y1="398.2" x2="598.4" y2="405.2" stroke="#777" stroke-width="0.5" />
<line x1="611.0" y1="398.2" x2="611.0" y2="405.2" stroke="#777" stroke-width="0.5" />
<line x1="623.6" y1="398.2" x2="623.6" y2="405.2" stroke="#777" stroke-width="0.5" />
<line x1="636.2" y1="398.2" x2="636.2" y2="405.2" stroke="#777" stroke-width="0.5" />
<line x1="648.8" y1="398.2" x2="648.8" y2="405.2" stroke="#777" stroke-width="0.5" />
<line x1="661.4" y1="398.2" x2="661.4" y2="405.2" stroke="#777" stroke-width="0.5" />
<line x1="674.0" y1="398.2" x2="674.0" y2="405.2" stroke="#777" stroke-width="0.5" />
<line x1="686.6" y1="398.2" x2="686.6" y2="405.2" stroke="#777" stroke-width="0.5" />
<text x="550.80" y="410.6" font-size="3.8" text-anchor="middle" letter-spacing="0" fill="#555" >1cm</text>
<text x="560.50" y="410.6" font-size="3.8" text-anchor="middle" letter-spacing="0" fill="#555" >2</text>
<text x="573.10" y="410.6" font-size="3.8" text-anchor="middle" letter-spacing="0" fill="#555" >3</text>
<text x="585.70" y="410.6" font-size="3.8" text-anchor="middle" letter-spacing="0" fill="#555" >4</text>
<text x="598.30" y="410.6" font-size="3.8" text-anchor="middle" letter-spacing="0" fill="#555" >5</text>
<text x="610.90" y="410.6" font-size="3.8" text-anchor="middle" letter-spacing="0" fill="#555" >6</text>
<text x="623.50" y="410.6" font-size="3.8" text-anchor="middle" letter-spacing="0" fill="#555" >7</text>
<text x="636.10" y="410.6" font-size="3.8" text-anchor="middle" letter-spacing="0" fill="#555" >8</text>
<text x="648.70" y="410.6" font-size="3.8" text-anchor="middle" letter-spacing="0" fill="#555" >9</text>
<text x="661.30" y="410.6" font-size="3.8" text-anchor="middle" letter-spacing="0" fill="#555" >10</text>
<text x="673.90" y="410.6" font-size="3.8" text-anchor="middle" letter-spacing="0" fill="#555" >11</text>
<path d="M556.8,368.3 L556.6,370.9 L554.3,372.3 L551.6,372.7 L549.1,371.1 L548.2,368.3 L549.5,365.8 L551.6,364.0 L554.2,364.6 L556.5,365.7Z" fill="url(#tg2)" stroke="url(#tg2)" stroke-width="0.8" stroke-linejoin="round"/>
<path d="M580.1,367.2 L579.2,368.6 L577.7,369.2 L575.9,369.7 L574.7,368.5 L573.8,367.2 L574.5,365.7 L576.1,365.2 L577.7,365.1 L579.1,365.9Z" fill="url(#tg2)" stroke="url(#tg2)" stroke-width="0.8" stroke-linejoin="round"/>
<path d="M605.3,368.3 L604.2,370.4 L602.5,371.9 L600.2,371.6 L598.5,370.4 L597.6,368.3 L598.4,366.2 L600.2,364.9 L602.6,364.2 L604.2,366.2Z" fill="url(#tg2)" stroke="url(#tg2)" stroke-width="0.8" stroke-linejoin="round"/>
<path d="M624.6,367.9 L624.1,369.6 L622.9,370.5 L621.5,370.4 L620.2,369.7 L619.7,367.9 L620.2,366.1 L621.5,365.3 L622.9,365.3 L624.2,366.1Z" fill="url(#tg2)" stroke="url(#tg2)" stroke-width="0.8" stroke-linejoin="round"/>
<path d="M648.7,369.0 L647.8,371.3 L646.1,373.0 L643.9,372.9 L641.9,371.5 L641.4,369.0 L641.9,366.4 L643.9,365.1 L646.2,365.0 L648.5,366.2Z" fill="url(#tg2)" stroke="url(#tg2)" stroke-width="0.8" stroke-linejoin="round"/>
<path d="M672.4,368.8 L672.0,369.8 L671.2,370.6 L670.0,370.7 L669.1,369.9 L668.5,368.8 L669.1,367.7 L670.0,366.8 L671.2,367.0 L672.0,367.8Z" fill="url(#tg2)" stroke="url(#tg2)" stroke-width="0.8" stroke-linejoin="round"/>
<path d="M558.2,387.2 L557.1,390.2 L554.8,392.7 L551.2,392.8 L548.7,390.3 L547.3,387.2 L548.7,384.0 L551.2,381.6 L554.6,382.2 L556.9,384.4Z" fill="url(#tg2)" stroke="url(#tg2)" stroke-width="0.8" stroke-linejoin="round"/>
<path d="M584.8,386.5 L582.8,389.1 L580.5,391.5 L576.6,391.3 L573.3,389.6 L572.6,386.5 L573.5,383.5 L576.6,381.5 L580.1,382.3 L583.1,383.7Z" fill="url(#tg2)" stroke="url(#tg2)" stroke-width="0.8" stroke-linejoin="round"/>
<path d="M605.4,386.1 L604.8,389.3 L601.8,391.1 L598.1,391.3 L595.8,388.9 L593.6,386.1 L595.0,382.7 L598.4,381.6 L601.8,381.2 L604.6,383.1Z" fill="url(#tg2)" stroke="url(#tg2)" stroke-width="0.8" stroke-linejoin="round"/>
<path d="M628.3,388.3 L627.0,390.8 L624.6,392.6 L621.1,392.8 L618.2,391.1 L617.2,388.3 L618.8,385.9 L621.4,384.6 L624.6,384.0 L627.6,385.5Z" fill="url(#tg2)" stroke="url(#tg2)" stroke-width="0.8" stroke-linejoin="round"/>
<path d="M650.6,388.3 L649.0,390.7 L646.5,392.2 L643.5,392.0 L640.7,390.9 L639.5,388.3 L641.2,386.0 L643.2,383.8 L646.7,384.0 L649.6,385.6Z" fill="url(#tg2)" stroke="url(#tg2)" stroke-width="0.8" stroke-linejoin="round"/>
<path d="M673.6,388.3 L672.9,391.6 L671.0,394.4 L668.1,393.9 L665.8,391.9 L665.3,388.3 L665.8,384.7 L668.2,383.1 L670.9,382.6 L672.8,385.1Z" fill="url(#tg2)" stroke="url(#tg2)" stroke-width="0.8" stroke-linejoin="round"/>
<line x1="428.9" y1="430.8" x2="428.9" y2="540.5" stroke="#111" stroke-width="1.3" />
<line x1="426.29999999999995" y1="540.5" x2="428.9" y2="540.5" stroke="#111" stroke-width="1.3" />
<text x="421.90" y="543.4" font-size="8.6" text-anchor="end" letter-spacing="0.5" fill="#111" stroke="#111" stroke-width="0.34" >0.0</text>
<line x1="426.29999999999995" y1="513.075" x2="428.9" y2="513.075" stroke="#111" stroke-width="1.3" />
<text x="421.90" y="515.975" font-size="8.6" text-anchor="end" letter-spacing="0.5" fill="#111" stroke="#111" stroke-width="0.34" >0.2</text>
<line x1="426.29999999999995" y1="485.65" x2="428.9" y2="485.65" stroke="#111" stroke-width="1.3" />
<text x="421.90" y="488.54999999999995" font-size="8.6" text-anchor="end" letter-spacing="0.5" fill="#111" stroke="#111" stroke-width="0.34" >0.4</text>
<line x1="426.29999999999995" y1="458.225" x2="428.9" y2="458.225" stroke="#111" stroke-width="1.3" />
<text x="421.90" y="461.125" font-size="8.6" text-anchor="end" letter-spacing="0.5" fill="#111" stroke="#111" stroke-width="0.34" >0.6</text>
<line x1="426.29999999999995" y1="430.8" x2="428.9" y2="430.8" stroke="#111" stroke-width="1.3" />
<text x="421.90" y="433.7" font-size="8.6" text-anchor="end" letter-spacing="0.5" fill="#111" stroke="#111" stroke-width="0.34" >0.8</text>
<line x1="428.9" y1="540.5" x2="514.5" y2="540.5" stroke="#111" stroke-width="1.3" />
<line x1="450" y1="540.5" x2="450" y2="543.1" stroke="#111" stroke-width="1.3" />
<line x1="493" y1="540.5" x2="493" y2="543.1" stroke="#111" stroke-width="1.3" />
<line x1="450" y1="480.3" x2="450" y2="514.3" stroke="#111" stroke-width="1.3" />
<line x1="435.7" y1="497.5" x2="464.3" y2="497.5" stroke="#111" stroke-width="1.3" />
<line x1="443.1" y1="480.3" x2="456.9" y2="480.3" stroke="#111" stroke-width="1.3" />
<line x1="443.1" y1="514.3" x2="456.9" y2="514.3" stroke="#111" stroke-width="1.3" />
<circle cx="450" cy="473" r="2.3625000000000003" fill="#111"/>
<circle cx="450" cy="483.8" r="2.3625000000000003" fill="#111"/>
<circle cx="443.3" cy="501.3" r="2.3625000000000003" fill="#111"/>
<circle cx="456.8" cy="498.8" r="2.3625000000000003" fill="#111"/>
<circle cx="450" cy="505.5" r="2.3625000000000003" fill="#111"/>
<circle cx="450" cy="521.8" r="2.3625000000000003" fill="#111"/>
<line x1="493" y1="445" x2="493" y2="493.8" stroke="#111" stroke-width="1.3" />
<line x1="478.7" y1="469.3" x2="507.3" y2="469.3" stroke="#111" stroke-width="1.3" />
<line x1="486.1" y1="445" x2="499.9" y2="445" stroke="#111" stroke-width="1.3" />
<line x1="486.1" y1="493.8" x2="499.9" y2="493.8" stroke="#111" stroke-width="1.3" />
<rect x="490.75" y="434.05" width="4.5" height="4.5" fill="#111"/>
<rect x="487.25" y="453.55" width="4.5" height="4.5" fill="#111"/>
<rect x="494.05" y="457.25" width="4.5" height="4.5" fill="#111"/>
<rect x="490.75" y="469.55" width="4.5" height="4.5" fill="#111"/>
<rect x="490.75" y="486.55" width="4.5" height="4.5" fill="#111"/>
<rect x="490.75" y="502.05" width="4.5" height="4.5" fill="#111"/>
<line x1="449.8" y1="427.7" x2="493.2" y2="427.7" stroke="#555" stroke-width="1.4" />
<polygon points="471.30,419.50 471.83,420.57 473.01,420.74 472.16,421.58 472.36,422.76 471.30,422.20 470.24,422.76 470.44,421.58 469.59,420.74 470.77,420.57" fill="#222"/>
<text x="400.20" y="485.84999999999997" font-size="8.6" text-anchor="middle" textLength="73.8" lengthAdjust="spacing" transform="rotate(-90 400.2 485.84999999999997)" fill="#111" stroke="#111" stroke-width="0.34" >Tumor weight (g)</text>
<text x="451.55" y="553.0" font-size="8.7" text-anchor="end" letter-spacing="0.35" transform="rotate(-45 451.2 553.0)" fill="#111" stroke="#111" stroke-width="0.35" >pWPXL</text>
<text x="494.55" y="553.0" font-size="8.7" text-anchor="end" letter-spacing="0.35" transform="rotate(-45 494.2 553.0)" fill="#111" stroke="#111" stroke-width="0.35" >LINC00152</text>
<line x1="582.3" y1="430.5" x2="582.3" y2="539.5" stroke="#111" stroke-width="1.3" />
<line x1="579.6999999999999" y1="539.5" x2="582.3" y2="539.5" stroke="#111" stroke-width="1.3" />
<text x="575.10" y="542.4" font-size="8.6" text-anchor="end" letter-spacing="0.5" fill="#111" stroke="#111" stroke-width="0.34" >0.0</text>
<line x1="579.6999999999999" y1="512.25" x2="582.3" y2="512.25" stroke="#111" stroke-width="1.3" />
<text x="575.10" y="515.15" font-size="8.6" text-anchor="end" letter-spacing="0.5" fill="#111" stroke="#111" stroke-width="0.34" >0.1</text>
<line x1="579.6999999999999" y1="485.0" x2="582.3" y2="485.0" stroke="#111" stroke-width="1.3" />
<text x="575.10" y="487.9" font-size="8.6" text-anchor="end" letter-spacing="0.5" fill="#111" stroke="#111" stroke-width="0.34" >0.2</text>
<line x1="579.6999999999999" y1="457.75" x2="582.3" y2="457.75" stroke="#111" stroke-width="1.3" />
<text x="575.10" y="460.65" font-size="8.6" text-anchor="end" letter-spacing="0.5" fill="#111" stroke="#111" stroke-width="0.34" >0.3</text>
<line x1="579.6999999999999" y1="430.5" x2="582.3" y2="430.5" stroke="#111" stroke-width="1.3" />
<text x="575.10" y="433.4" font-size="8.6" text-anchor="end" letter-spacing="0.5" fill="#111" stroke="#111" stroke-width="0.34" >0.4</text>
<line x1="582.3" y1="539.5" x2="666.5" y2="539.5" stroke="#111" stroke-width="1.3" />
<line x1="603.3" y1="539.5" x2="603.3" y2="542.1" stroke="#111" stroke-width="1.3" />
<line x1="645.8" y1="539.5" x2="645.8" y2="542.1" stroke="#111" stroke-width="1.3" />
<line x1="603.3" y1="497.8" x2="603.3" y2="535.8" stroke="#111" stroke-width="1.3" />
<line x1="589.0" y1="516.5" x2="617.5999999999999" y2="516.5" stroke="#111" stroke-width="1.3" />
<line x1="596.4" y1="497.8" x2="610.1999999999999" y2="497.8" stroke="#111" stroke-width="1.3" />
<line x1="596.4" y1="535.8" x2="610.1999999999999" y2="535.8" stroke="#111" stroke-width="1.3" />
<circle cx="603.3" cy="488" r="2.3625000000000003" fill="#111"/>
<circle cx="606.5" cy="504.3" r="2.3625000000000003" fill="#111"/>
<circle cx="600.3" cy="510" r="2.3625000000000003" fill="#111"/>
<circle cx="603.3" cy="528.3" r="2.3625000000000003" fill="#111"/>
<circle cx="606.5" cy="532.5" r="2.3625000000000003" fill="#111"/>
<circle cx="600.3" cy="537.5" r="2.3625000000000003" fill="#111"/>
<line x1="645.8" y1="456" x2="645.8" y2="487.8" stroke="#111" stroke-width="1.3" />
<line x1="631.5" y1="472.3" x2="660.0999999999999" y2="472.3" stroke="#111" stroke-width="1.3" />
<line x1="638.9" y1="456" x2="652.6999999999999" y2="456" stroke="#111" stroke-width="1.3" />
<line x1="638.9" y1="487.8" x2="652.6999999999999" y2="487.8" stroke="#111" stroke-width="1.3" />
<rect x="646.75" y="451.55" width="4.5" height="4.5" fill="#111"/>
<rect x="640.05" y="454.75" width="4.5" height="4.5" fill="#111"/>
<rect x="640.05" y="464.75" width="4.5" height="4.5" fill="#111"/>
<rect x="646.75" y="469.05" width="4.5" height="4.5" fill="#111"/>
<rect x="646.75" y="487.75" width="4.5" height="4.5" fill="#111"/>
<rect x="640.05" y="490.25" width="4.5" height="4.5" fill="#111"/>
<line x1="603.2" y1="442.3" x2="647" y2="442.3" stroke="#555" stroke-width="1.4" />
<polygon points="621.55,433.30 622.08,434.37 623.26,434.54 622.41,435.38 622.61,436.56 621.55,436.00 620.49,436.56 620.69,435.38 619.84,434.54 621.02,434.37" fill="#222"/>
<polygon points="627.85,433.30 628.38,434.37 629.56,434.54 628.71,435.38 628.91,436.56 627.85,436.00 626.79,436.56 626.99,435.38 626.14,434.54 627.32,434.37" fill="#222"/>
<text x="552.20" y="485.2" font-size="8.6" text-anchor="middle" textLength="73.8" lengthAdjust="spacing" transform="rotate(-90 552.2 485.2)" fill="#111" stroke="#111" stroke-width="0.34" >Tumor weight (g)</text>
<text x="604.85" y="553.0" font-size="8.7" text-anchor="end" letter-spacing="0.35" transform="rotate(-45 604.5 553.0)" fill="#111" stroke="#111" stroke-width="0.35" >pWPXL</text>
<text x="647.35" y="553.0" font-size="8.7" text-anchor="end" letter-spacing="0.35" transform="rotate(-45 647.0 553.0)" fill="#111" stroke="#111" stroke-width="0.35" >LINC00152</text></svg></body></html>
